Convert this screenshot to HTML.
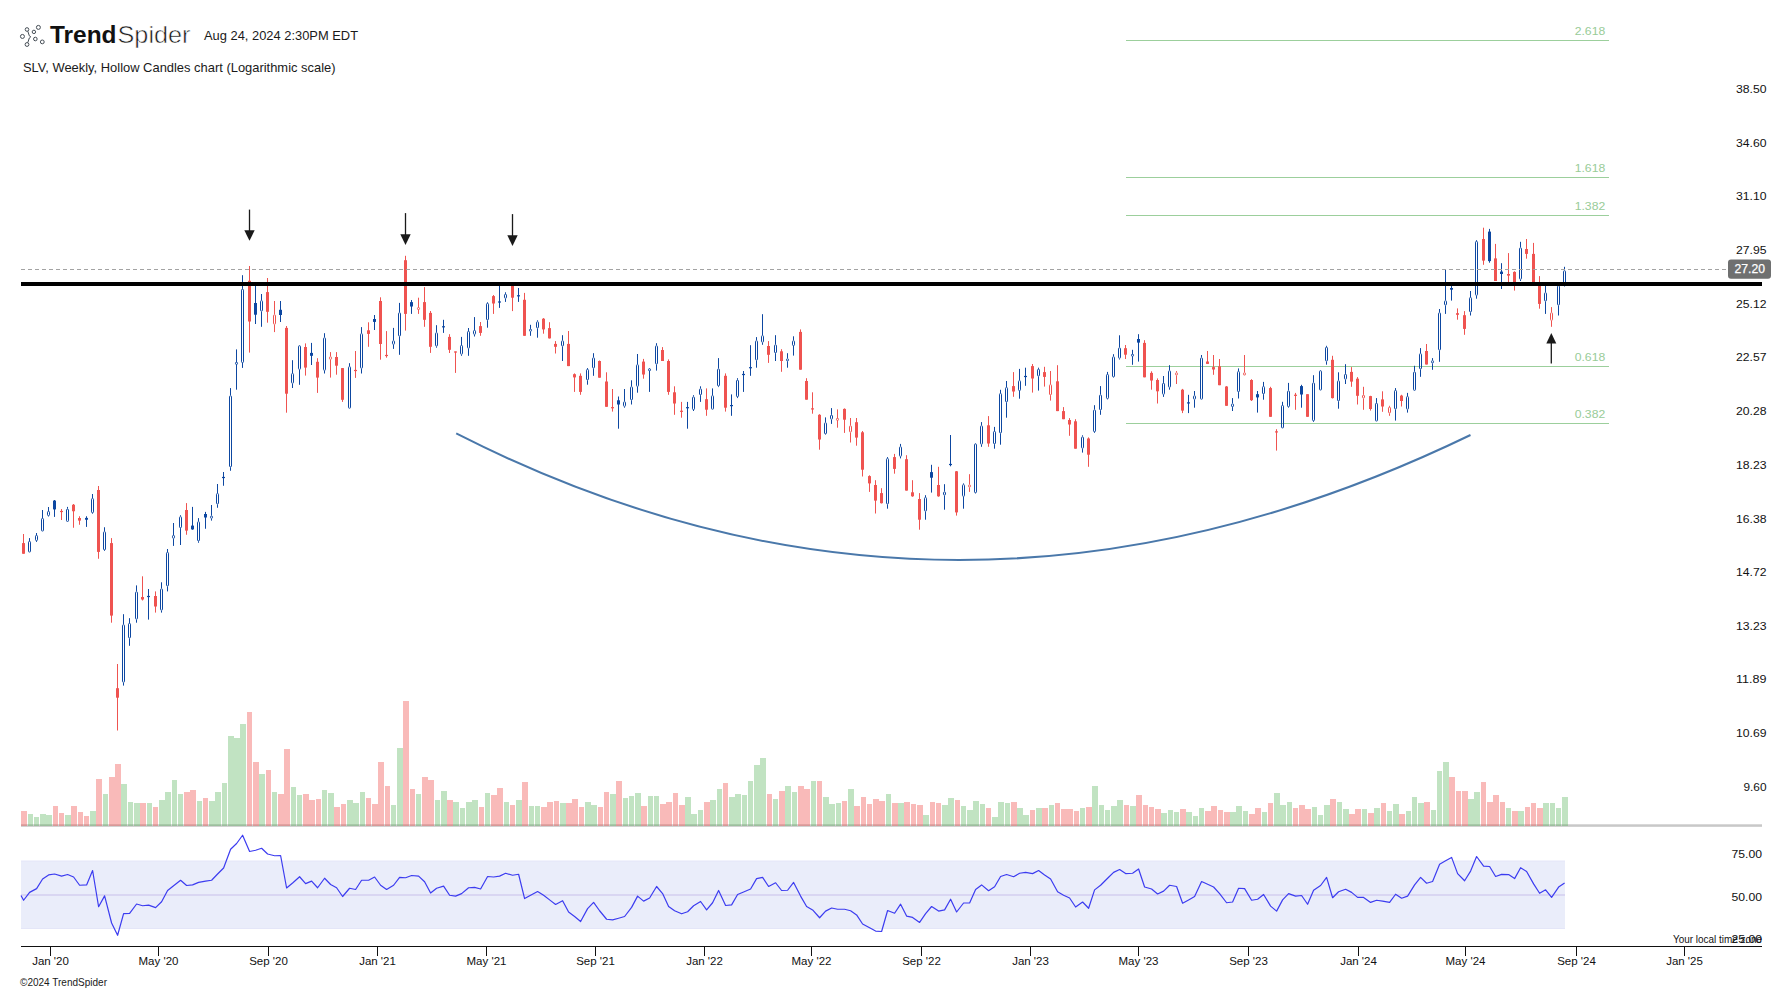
<!DOCTYPE html>
<html><head><meta charset="utf-8"><style>
html,body{margin:0;padding:0;background:#fff;width:1792px;height:992px;overflow:hidden;position:relative}
text{font-family:"Liberation Sans",sans-serif}
.ax{font-size:11.5px;fill:#111}
.tz{font-size:10.5px;fill:#111}
.tag{font-size:12.5px;fill:#fff;stroke:#fff;stroke-width:0.25px}
.fib{font-size:11px;fill:#98cc98}
.hd{font-size:13px;fill:#1a1a1a}
.logo{font-size:24px;fill:#111}
.thin{fill:#1a1a1a;stroke:#fff;stroke-width:0.55px}
.cp{font-size:11px;fill:#1a1a1a}
</style></head><body>
<svg width="1792" height="992" viewBox="0 0 1792 992" style="position:absolute;left:0;top:0"><rect x="21" y="861" width="1544" height="68" fill="#eaedfa"/><line x1="21" y1="895" x2="1565" y2="895" stroke="#d9d6f2" stroke-width="2"/><line x1="21" y1="861" x2="1565" y2="861" stroke="#e4e6f8" stroke-width="1"/><line x1="21" y1="928.5" x2="1565" y2="928.5" stroke="#e4e6f8" stroke-width="1"/><rect x="21" y="824.3" width="1741" height="2.5" fill="#c8c8c8"/><g shape-rendering="crispEdges"><rect x="21" y="811.1" width="6" height="14.4" fill="#ef5350" fill-opacity="0.4"/><rect x="28" y="814.2" width="5" height="11.3" fill="#4caf50" fill-opacity="0.35"/><rect x="34" y="817.0" width="5" height="8.5" fill="#4caf50" fill-opacity="0.35"/><rect x="40" y="814.2" width="6" height="11.3" fill="#4caf50" fill-opacity="0.35"/><rect x="46" y="815.0" width="6" height="10.5" fill="#4caf50" fill-opacity="0.35"/><rect x="53" y="806.0" width="5" height="19.5" fill="#ef5350" fill-opacity="0.4"/><rect x="59" y="813.1" width="5" height="12.4" fill="#ef5350" fill-opacity="0.4"/><rect x="65" y="815.0" width="6" height="10.5" fill="#4caf50" fill-opacity="0.35"/><rect x="71" y="806.0" width="6" height="19.5" fill="#ef5350" fill-opacity="0.4"/><rect x="78" y="812.0" width="5" height="13.5" fill="#ef5350" fill-opacity="0.4"/><rect x="84" y="816.0" width="5" height="9.5" fill="#ef5350" fill-opacity="0.4"/><rect x="90" y="811.1" width="6" height="14.4" fill="#4caf50" fill-opacity="0.35"/><rect x="96" y="779.2" width="6" height="46.3" fill="#ef5350" fill-opacity="0.4"/><rect x="103" y="794.1" width="5" height="31.4" fill="#4caf50" fill-opacity="0.35"/><rect x="109" y="777.2" width="6" height="48.3" fill="#ef5350" fill-opacity="0.4"/><rect x="115" y="764.1" width="6" height="61.4" fill="#ef5350" fill-opacity="0.4"/><rect x="121" y="784.1" width="6" height="41.4" fill="#4caf50" fill-opacity="0.35"/><rect x="128" y="802.2" width="5" height="23.3" fill="#4caf50" fill-opacity="0.35"/><rect x="134" y="803.2" width="6" height="22.3" fill="#4caf50" fill-opacity="0.35"/><rect x="140" y="803.2" width="6" height="22.3" fill="#ef5350" fill-opacity="0.4"/><rect x="147" y="803.2" width="5" height="22.3" fill="#4caf50" fill-opacity="0.35"/><rect x="153" y="807.1" width="5" height="18.4" fill="#ef5350" fill-opacity="0.4"/><rect x="159" y="800.1" width="6" height="25.4" fill="#4caf50" fill-opacity="0.35"/><rect x="165" y="792.0" width="6" height="33.5" fill="#4caf50" fill-opacity="0.35"/><rect x="172" y="780.0" width="5" height="45.5" fill="#4caf50" fill-opacity="0.35"/><rect x="178" y="794.1" width="5" height="31.4" fill="#4caf50" fill-opacity="0.35"/><rect x="184" y="792.0" width="6" height="33.5" fill="#ef5350" fill-opacity="0.4"/><rect x="190" y="790.2" width="6" height="35.3" fill="#ef5350" fill-opacity="0.4"/><rect x="197" y="801.2" width="5" height="24.3" fill="#4caf50" fill-opacity="0.35"/><rect x="203" y="798.0" width="5" height="27.5" fill="#ef5350" fill-opacity="0.4"/><rect x="209" y="801.2" width="6" height="24.3" fill="#4caf50" fill-opacity="0.35"/><rect x="215" y="792.0" width="6" height="33.5" fill="#4caf50" fill-opacity="0.35"/><rect x="222" y="783.1" width="5" height="42.4" fill="#4caf50" fill-opacity="0.35"/><rect x="228" y="735.9" width="6" height="89.6" fill="#4caf50" fill-opacity="0.35"/><rect x="234" y="738.2" width="6" height="87.3" fill="#4caf50" fill-opacity="0.35"/><rect x="240" y="724.0" width="6" height="101.5" fill="#4caf50" fill-opacity="0.35"/><rect x="247" y="712.0" width="5" height="113.5" fill="#ef5350" fill-opacity="0.4"/><rect x="253" y="762.1" width="6" height="63.4" fill="#ef5350" fill-opacity="0.4"/><rect x="259" y="774.1" width="6" height="51.4" fill="#4caf50" fill-opacity="0.35"/><rect x="266" y="770.1" width="5" height="55.4" fill="#ef5350" fill-opacity="0.4"/><rect x="272" y="792.1" width="5" height="33.4" fill="#4caf50" fill-opacity="0.35"/><rect x="278" y="794.1" width="6" height="31.4" fill="#ef5350" fill-opacity="0.4"/><rect x="284" y="749.0" width="6" height="76.5" fill="#ef5350" fill-opacity="0.4"/><rect x="291" y="787.2" width="5" height="38.3" fill="#4caf50" fill-opacity="0.35"/><rect x="297" y="795.1" width="5" height="30.4" fill="#4caf50" fill-opacity="0.35"/><rect x="303" y="794.1" width="6" height="31.4" fill="#ef5350" fill-opacity="0.4"/><rect x="309" y="800.1" width="6" height="25.4" fill="#ef5350" fill-opacity="0.4"/><rect x="316" y="798.9" width="5" height="26.6" fill="#ef5350" fill-opacity="0.4"/><rect x="322" y="790.1" width="5" height="35.4" fill="#4caf50" fill-opacity="0.35"/><rect x="328" y="793.1" width="6" height="32.4" fill="#4caf50" fill-opacity="0.35"/><rect x="334" y="807.1" width="6" height="18.4" fill="#ef5350" fill-opacity="0.4"/><rect x="341" y="804.0" width="5" height="21.5" fill="#ef5350" fill-opacity="0.4"/><rect x="347" y="800.1" width="6" height="25.4" fill="#4caf50" fill-opacity="0.35"/><rect x="353" y="803.1" width="6" height="22.4" fill="#4caf50" fill-opacity="0.35"/><rect x="360" y="792.1" width="5" height="33.4" fill="#4caf50" fill-opacity="0.35"/><rect x="366" y="798.1" width="5" height="27.4" fill="#ef5350" fill-opacity="0.4"/><rect x="372" y="804.0" width="6" height="21.5" fill="#ef5350" fill-opacity="0.4"/><rect x="378" y="762.1" width="6" height="63.4" fill="#ef5350" fill-opacity="0.4"/><rect x="385" y="786.1" width="5" height="39.4" fill="#ef5350" fill-opacity="0.4"/><rect x="391" y="805.1" width="5" height="20.4" fill="#4caf50" fill-opacity="0.35"/><rect x="397" y="748.2" width="6" height="77.3" fill="#4caf50" fill-opacity="0.35"/><rect x="403" y="701.1" width="6" height="124.4" fill="#ef5350" fill-opacity="0.4"/><rect x="410" y="789.1" width="5" height="36.4" fill="#ef5350" fill-opacity="0.4"/><rect x="416" y="794.1" width="5" height="31.4" fill="#4caf50" fill-opacity="0.35"/><rect x="422" y="776.9" width="6" height="48.6" fill="#ef5350" fill-opacity="0.4"/><rect x="428" y="780.1" width="6" height="45.4" fill="#ef5350" fill-opacity="0.4"/><rect x="435" y="800.1" width="5" height="25.4" fill="#4caf50" fill-opacity="0.35"/><rect x="441" y="791.1" width="6" height="34.4" fill="#4caf50" fill-opacity="0.35"/><rect x="447" y="800.1" width="6" height="25.4" fill="#ef5350" fill-opacity="0.4"/><rect x="453" y="802.1" width="6" height="23.4" fill="#4caf50" fill-opacity="0.35"/><rect x="460" y="808.2" width="5" height="17.3" fill="#4caf50" fill-opacity="0.35"/><rect x="466" y="802.1" width="6" height="23.4" fill="#4caf50" fill-opacity="0.35"/><rect x="472" y="800.1" width="6" height="25.4" fill="#4caf50" fill-opacity="0.35"/><rect x="479" y="807.1" width="5" height="18.4" fill="#ef5350" fill-opacity="0.4"/><rect x="485" y="793.1" width="5" height="32.4" fill="#4caf50" fill-opacity="0.35"/><rect x="491" y="795.1" width="6" height="30.4" fill="#ef5350" fill-opacity="0.4"/><rect x="497" y="788.1" width="6" height="37.4" fill="#ef5350" fill-opacity="0.4"/><rect x="504" y="802.1" width="5" height="23.4" fill="#4caf50" fill-opacity="0.35"/><rect x="510" y="805.1" width="5" height="20.4" fill="#ef5350" fill-opacity="0.4"/><rect x="516" y="800.1" width="6" height="25.4" fill="#4caf50" fill-opacity="0.35"/><rect x="522" y="782.1" width="6" height="43.4" fill="#ef5350" fill-opacity="0.4"/><rect x="529" y="806.2" width="5" height="19.3" fill="#4caf50" fill-opacity="0.35"/><rect x="535" y="806.2" width="5" height="19.3" fill="#4caf50" fill-opacity="0.35"/><rect x="541" y="807.1" width="6" height="18.4" fill="#ef5350" fill-opacity="0.4"/><rect x="547" y="802.1" width="6" height="23.4" fill="#ef5350" fill-opacity="0.4"/><rect x="554" y="801.1" width="5" height="24.4" fill="#ef5350" fill-opacity="0.4"/><rect x="560" y="803.1" width="6" height="22.4" fill="#4caf50" fill-opacity="0.35"/><rect x="566" y="803.1" width="6" height="22.4" fill="#ef5350" fill-opacity="0.4"/><rect x="572" y="799.1" width="6" height="26.4" fill="#ef5350" fill-opacity="0.4"/><rect x="579" y="807.1" width="5" height="18.4" fill="#ef5350" fill-opacity="0.4"/><rect x="585" y="802.1" width="6" height="23.4" fill="#4caf50" fill-opacity="0.35"/><rect x="591" y="805.1" width="6" height="20.4" fill="#4caf50" fill-opacity="0.35"/><rect x="598" y="807.1" width="5" height="18.4" fill="#ef5350" fill-opacity="0.4"/><rect x="604" y="792.1" width="5" height="33.4" fill="#ef5350" fill-opacity="0.4"/><rect x="610" y="794.1" width="6" height="31.4" fill="#4caf50" fill-opacity="0.35"/><rect x="616" y="781.2" width="6" height="44.3" fill="#ef5350" fill-opacity="0.4"/><rect x="623" y="798.1" width="5" height="27.4" fill="#4caf50" fill-opacity="0.35"/><rect x="629" y="796.1" width="5" height="29.4" fill="#4caf50" fill-opacity="0.35"/><rect x="635" y="793.1" width="6" height="32.4" fill="#4caf50" fill-opacity="0.35"/><rect x="641" y="806.2" width="6" height="19.3" fill="#ef5350" fill-opacity="0.4"/><rect x="648" y="796.1" width="5" height="29.4" fill="#4caf50" fill-opacity="0.35"/><rect x="654" y="796.1" width="5" height="29.4" fill="#4caf50" fill-opacity="0.35"/><rect x="660" y="804.0" width="6" height="21.5" fill="#ef5350" fill-opacity="0.4"/><rect x="666" y="802.1" width="6" height="23.4" fill="#ef5350" fill-opacity="0.4"/><rect x="673" y="793.1" width="5" height="32.4" fill="#ef5350" fill-opacity="0.4"/><rect x="679" y="805.1" width="6" height="20.4" fill="#ef5350" fill-opacity="0.4"/><rect x="685" y="797.1" width="6" height="28.4" fill="#4caf50" fill-opacity="0.35"/><rect x="691" y="814.2" width="6" height="11.3" fill="#4caf50" fill-opacity="0.35"/><rect x="698" y="810.2" width="5" height="15.3" fill="#4caf50" fill-opacity="0.35"/><rect x="704" y="802.1" width="6" height="23.4" fill="#ef5350" fill-opacity="0.4"/><rect x="710" y="800.1" width="6" height="25.4" fill="#4caf50" fill-opacity="0.35"/><rect x="717" y="789.1" width="5" height="36.4" fill="#4caf50" fill-opacity="0.35"/><rect x="723" y="783.2" width="5" height="42.3" fill="#ef5350" fill-opacity="0.4"/><rect x="729" y="797.1" width="6" height="28.4" fill="#4caf50" fill-opacity="0.35"/><rect x="735" y="794.1" width="6" height="31.4" fill="#4caf50" fill-opacity="0.35"/><rect x="742" y="795.1" width="5" height="30.4" fill="#4caf50" fill-opacity="0.35"/><rect x="748" y="781.2" width="5" height="44.3" fill="#4caf50" fill-opacity="0.35"/><rect x="754" y="765.2" width="6" height="60.3" fill="#4caf50" fill-opacity="0.35"/><rect x="760" y="758.1" width="6" height="67.4" fill="#4caf50" fill-opacity="0.35"/><rect x="767" y="794.1" width="5" height="31.4" fill="#ef5350" fill-opacity="0.4"/><rect x="773" y="799.1" width="5" height="26.4" fill="#4caf50" fill-opacity="0.35"/><rect x="779" y="791.1" width="6" height="34.4" fill="#ef5350" fill-opacity="0.4"/><rect x="785" y="786.2" width="6" height="39.3" fill="#4caf50" fill-opacity="0.35"/><rect x="792" y="792.1" width="5" height="33.4" fill="#4caf50" fill-opacity="0.35"/><rect x="798" y="786.2" width="6" height="39.3" fill="#ef5350" fill-opacity="0.4"/><rect x="804" y="789.1" width="6" height="36.4" fill="#ef5350" fill-opacity="0.4"/><rect x="811" y="781.2" width="5" height="44.3" fill="#4caf50" fill-opacity="0.35"/><rect x="817" y="781.2" width="5" height="44.3" fill="#ef5350" fill-opacity="0.4"/><rect x="823" y="797.1" width="6" height="28.4" fill="#4caf50" fill-opacity="0.35"/><rect x="829" y="804.0" width="6" height="21.5" fill="#4caf50" fill-opacity="0.35"/><rect x="836" y="803.1" width="5" height="22.4" fill="#4caf50" fill-opacity="0.35"/><rect x="842" y="801.1" width="5" height="24.4" fill="#ef5350" fill-opacity="0.4"/><rect x="848" y="789.1" width="6" height="36.4" fill="#4caf50" fill-opacity="0.35"/><rect x="854" y="806.2" width="6" height="19.3" fill="#ef5350" fill-opacity="0.4"/><rect x="861" y="797.1" width="5" height="28.4" fill="#ef5350" fill-opacity="0.4"/><rect x="867" y="804.0" width="5" height="21.5" fill="#ef5350" fill-opacity="0.4"/><rect x="873" y="799.1" width="6" height="26.4" fill="#ef5350" fill-opacity="0.4"/><rect x="879" y="801.1" width="6" height="24.4" fill="#ef5350" fill-opacity="0.4"/><rect x="886" y="794.1" width="5" height="31.4" fill="#4caf50" fill-opacity="0.35"/><rect x="892" y="803.1" width="6" height="22.4" fill="#ef5350" fill-opacity="0.4"/><rect x="898" y="803.1" width="6" height="22.4" fill="#4caf50" fill-opacity="0.35"/><rect x="904" y="802.1" width="6" height="23.4" fill="#ef5350" fill-opacity="0.4"/><rect x="911" y="804.0" width="5" height="21.5" fill="#ef5350" fill-opacity="0.4"/><rect x="917" y="805.1" width="6" height="20.4" fill="#ef5350" fill-opacity="0.4"/><rect x="923" y="815.1" width="6" height="10.4" fill="#4caf50" fill-opacity="0.35"/><rect x="930" y="802.1" width="5" height="23.4" fill="#ef5350" fill-opacity="0.4"/><rect x="936" y="803.1" width="5" height="22.4" fill="#ef5350" fill-opacity="0.4"/><rect x="942" y="805.1" width="6" height="20.4" fill="#4caf50" fill-opacity="0.35"/><rect x="948" y="798.1" width="6" height="27.4" fill="#4caf50" fill-opacity="0.35"/><rect x="955" y="800.1" width="5" height="25.4" fill="#ef5350" fill-opacity="0.4"/><rect x="961" y="806.2" width="5" height="19.3" fill="#4caf50" fill-opacity="0.35"/><rect x="967" y="810.2" width="6" height="15.3" fill="#4caf50" fill-opacity="0.35"/><rect x="973" y="801.1" width="6" height="24.4" fill="#4caf50" fill-opacity="0.35"/><rect x="980" y="804.0" width="5" height="21.5" fill="#4caf50" fill-opacity="0.35"/><rect x="986" y="808.2" width="5" height="17.3" fill="#ef5350" fill-opacity="0.4"/><rect x="992" y="817.1" width="6" height="8.4" fill="#4caf50" fill-opacity="0.35"/><rect x="998" y="802.1" width="6" height="23.4" fill="#4caf50" fill-opacity="0.35"/><rect x="1005" y="803.1" width="5" height="22.4" fill="#4caf50" fill-opacity="0.35"/><rect x="1011" y="802.1" width="6" height="23.4" fill="#ef5350" fill-opacity="0.4"/><rect x="1017" y="808.2" width="6" height="17.3" fill="#4caf50" fill-opacity="0.35"/><rect x="1023" y="815.1" width="6" height="10.4" fill="#4caf50" fill-opacity="0.35"/><rect x="1030" y="810.2" width="5" height="15.3" fill="#ef5350" fill-opacity="0.4"/><rect x="1036" y="808.2" width="6" height="17.3" fill="#4caf50" fill-opacity="0.35"/><rect x="1042" y="808.2" width="6" height="17.3" fill="#ef5350" fill-opacity="0.4"/><rect x="1049" y="805.1" width="5" height="20.4" fill="#4caf50" fill-opacity="0.35"/><rect x="1055" y="803.1" width="5" height="22.4" fill="#ef5350" fill-opacity="0.4"/><rect x="1061" y="809.1" width="6" height="16.4" fill="#ef5350" fill-opacity="0.4"/><rect x="1067" y="809.1" width="6" height="16.4" fill="#ef5350" fill-opacity="0.4"/><rect x="1074" y="811.1" width="5" height="14.4" fill="#ef5350" fill-opacity="0.4"/><rect x="1080" y="808.2" width="5" height="17.3" fill="#4caf50" fill-opacity="0.35"/><rect x="1086" y="807.1" width="6" height="18.4" fill="#ef5350" fill-opacity="0.4"/><rect x="1092" y="786.1" width="6" height="39.4" fill="#4caf50" fill-opacity="0.35"/><rect x="1099" y="805.1" width="5" height="20.4" fill="#4caf50" fill-opacity="0.35"/><rect x="1105" y="810.2" width="5" height="15.3" fill="#4caf50" fill-opacity="0.35"/><rect x="1111" y="806.2" width="6" height="19.3" fill="#4caf50" fill-opacity="0.35"/><rect x="1117" y="800.1" width="6" height="25.4" fill="#4caf50" fill-opacity="0.35"/><rect x="1124" y="805.1" width="5" height="20.4" fill="#ef5350" fill-opacity="0.4"/><rect x="1130" y="806.2" width="6" height="19.3" fill="#4caf50" fill-opacity="0.35"/><rect x="1136" y="795.1" width="6" height="30.4" fill="#ef5350" fill-opacity="0.4"/><rect x="1143" y="805.1" width="5" height="20.4" fill="#ef5350" fill-opacity="0.4"/><rect x="1149" y="807.1" width="5" height="18.4" fill="#ef5350" fill-opacity="0.4"/><rect x="1155" y="809.1" width="6" height="16.4" fill="#ef5350" fill-opacity="0.4"/><rect x="1161" y="813.1" width="6" height="12.4" fill="#4caf50" fill-opacity="0.35"/><rect x="1168" y="810.2" width="5" height="15.3" fill="#4caf50" fill-opacity="0.35"/><rect x="1174" y="812.2" width="5" height="13.3" fill="#4caf50" fill-opacity="0.35"/><rect x="1180" y="809.1" width="6" height="16.4" fill="#ef5350" fill-opacity="0.4"/><rect x="1186" y="812.2" width="6" height="13.3" fill="#4caf50" fill-opacity="0.35"/><rect x="1193" y="816.2" width="5" height="9.3" fill="#4caf50" fill-opacity="0.35"/><rect x="1199" y="808.2" width="5" height="17.3" fill="#4caf50" fill-opacity="0.35"/><rect x="1205" y="811.1" width="6" height="14.4" fill="#ef5350" fill-opacity="0.4"/><rect x="1211" y="806.2" width="6" height="19.3" fill="#ef5350" fill-opacity="0.4"/><rect x="1218" y="810.2" width="5" height="15.3" fill="#ef5350" fill-opacity="0.4"/><rect x="1224" y="812.2" width="6" height="13.3" fill="#ef5350" fill-opacity="0.4"/><rect x="1230" y="812.2" width="6" height="13.3" fill="#4caf50" fill-opacity="0.35"/><rect x="1236" y="806.2" width="6" height="19.3" fill="#4caf50" fill-opacity="0.35"/><rect x="1243" y="811.1" width="5" height="14.4" fill="#4caf50" fill-opacity="0.35"/><rect x="1249" y="814.2" width="6" height="11.3" fill="#ef5350" fill-opacity="0.4"/><rect x="1255" y="808.2" width="6" height="17.3" fill="#ef5350" fill-opacity="0.4"/><rect x="1262" y="812.2" width="5" height="13.3" fill="#4caf50" fill-opacity="0.35"/><rect x="1268" y="803.1" width="5" height="22.4" fill="#ef5350" fill-opacity="0.4"/><rect x="1274" y="793.1" width="6" height="32.4" fill="#4caf50" fill-opacity="0.35"/><rect x="1280" y="805.1" width="6" height="20.4" fill="#4caf50" fill-opacity="0.35"/><rect x="1287" y="802.1" width="5" height="23.4" fill="#4caf50" fill-opacity="0.35"/><rect x="1293" y="808.2" width="5" height="17.3" fill="#ef5350" fill-opacity="0.4"/><rect x="1299" y="805.1" width="6" height="20.4" fill="#ef5350" fill-opacity="0.4"/><rect x="1305" y="809.1" width="6" height="16.4" fill="#ef5350" fill-opacity="0.4"/><rect x="1312" y="807.1" width="5" height="18.4" fill="#4caf50" fill-opacity="0.35"/><rect x="1318" y="815.1" width="5" height="10.4" fill="#4caf50" fill-opacity="0.35"/><rect x="1324" y="805.1" width="6" height="20.4" fill="#4caf50" fill-opacity="0.35"/><rect x="1330" y="798.9" width="6" height="26.6" fill="#ef5350" fill-opacity="0.4"/><rect x="1337" y="802.1" width="5" height="23.4" fill="#4caf50" fill-opacity="0.35"/><rect x="1343" y="809.1" width="6" height="16.4" fill="#4caf50" fill-opacity="0.35"/><rect x="1349" y="814.2" width="6" height="11.3" fill="#ef5350" fill-opacity="0.4"/><rect x="1355" y="809.1" width="6" height="16.4" fill="#ef5350" fill-opacity="0.4"/><rect x="1362" y="809.1" width="5" height="16.4" fill="#4caf50" fill-opacity="0.35"/><rect x="1368" y="813.1" width="6" height="12.4" fill="#ef5350" fill-opacity="0.4"/><rect x="1374" y="808.2" width="6" height="17.3" fill="#4caf50" fill-opacity="0.35"/><rect x="1381" y="803.1" width="5" height="22.4" fill="#ef5350" fill-opacity="0.4"/><rect x="1387" y="811.1" width="5" height="14.4" fill="#4caf50" fill-opacity="0.35"/><rect x="1393" y="804.0" width="6" height="21.5" fill="#4caf50" fill-opacity="0.35"/><rect x="1399" y="814.2" width="6" height="11.3" fill="#ef5350" fill-opacity="0.4"/><rect x="1406" y="811.1" width="5" height="14.4" fill="#4caf50" fill-opacity="0.35"/><rect x="1412" y="797.1" width="5" height="28.4" fill="#4caf50" fill-opacity="0.35"/><rect x="1418" y="803.1" width="6" height="22.4" fill="#4caf50" fill-opacity="0.35"/><rect x="1424" y="802.1" width="6" height="23.4" fill="#ef5350" fill-opacity="0.4"/><rect x="1431" y="810.2" width="5" height="15.3" fill="#4caf50" fill-opacity="0.35"/><rect x="1437" y="771.2" width="5" height="54.3" fill="#4caf50" fill-opacity="0.35"/><rect x="1443" y="762.1" width="6" height="63.4" fill="#4caf50" fill-opacity="0.35"/><rect x="1449" y="777.2" width="6" height="48.3" fill="#ef5350" fill-opacity="0.4"/><rect x="1456" y="791.1" width="5" height="34.4" fill="#ef5350" fill-opacity="0.4"/><rect x="1462" y="791.1" width="6" height="34.4" fill="#ef5350" fill-opacity="0.4"/><rect x="1468" y="799.1" width="6" height="26.4" fill="#4caf50" fill-opacity="0.35"/><rect x="1474" y="792.1" width="6" height="33.4" fill="#4caf50" fill-opacity="0.35"/><rect x="1481" y="782.2" width="5" height="43.3" fill="#ef5350" fill-opacity="0.4"/><rect x="1487" y="802.1" width="6" height="23.4" fill="#ef5350" fill-opacity="0.4"/><rect x="1493" y="795.1" width="6" height="30.4" fill="#ef5350" fill-opacity="0.4"/><rect x="1500" y="802.1" width="5" height="23.4" fill="#ef5350" fill-opacity="0.4"/><rect x="1506" y="808.1" width="5" height="17.4" fill="#4caf50" fill-opacity="0.35"/><rect x="1512" y="811.1" width="6" height="14.4" fill="#ef5350" fill-opacity="0.4"/><rect x="1518" y="811.1" width="6" height="14.4" fill="#4caf50" fill-opacity="0.35"/><rect x="1525" y="807.2" width="5" height="18.3" fill="#ef5350" fill-opacity="0.4"/><rect x="1531" y="803.1" width="5" height="22.4" fill="#ef5350" fill-opacity="0.4"/><rect x="1537" y="808.1" width="6" height="17.4" fill="#ef5350" fill-opacity="0.4"/><rect x="1543" y="803.1" width="6" height="22.4" fill="#4caf50" fill-opacity="0.35"/><rect x="1550" y="803.1" width="5" height="22.4" fill="#4caf50" fill-opacity="0.35"/><rect x="1556" y="808.1" width="5" height="17.4" fill="#4caf50" fill-opacity="0.35"/><rect x="1562" y="797.0" width="6" height="28.5" fill="#4caf50" fill-opacity="0.35"/></g><line x1="1126" y1="40.5" x2="1609" y2="40.5" stroke="#9ccf9c" stroke-width="1.2"/><line x1="1126" y1="177.5" x2="1609" y2="177.5" stroke="#9ccf9c" stroke-width="1.2"/><line x1="1126" y1="215.5" x2="1609" y2="215.5" stroke="#9ccf9c" stroke-width="1.2"/><line x1="1126" y1="366.5" x2="1609" y2="366.5" stroke="#9ccf9c" stroke-width="1.2"/><line x1="1126" y1="423.5" x2="1609" y2="423.5" stroke="#9ccf9c" stroke-width="1.2"/><path d="M456.2 433.4 Q951.7 685.7 1470.5 435" fill="none" stroke="#4a78aa" stroke-width="2"/><g><line x1="23.5" y1="534.0" x2="23.5" y2="553.75" stroke="#ef5350" stroke-width="1"/><rect x="22.0" y="543.1" width="3" height="10.65" fill="#ef5350"/><line x1="29.5" y1="538.1" x2="29.5" y2="541.0" stroke="#0d47a1" stroke-width="1"/><rect x="28.5" y="541.50" width="2" height="10.50" rx="0.7" fill="none" stroke="#0d47a1" stroke-width="1"/><line x1="36.5" y1="533.0" x2="36.5" y2="535.0" stroke="#0d47a1" stroke-width="1"/><line x1="36.5" y1="541.0" x2="36.5" y2="541.9" stroke="#0d47a1" stroke-width="1"/><rect x="35.5" y="535.50" width="2" height="5.00" rx="0.7" fill="none" stroke="#0d47a1" stroke-width="1"/><line x1="42.5" y1="510.0" x2="42.5" y2="518.0" stroke="#0d47a1" stroke-width="1"/><rect x="41.5" y="518.50" width="2" height="12.50" rx="0.7" fill="none" stroke="#0d47a1" stroke-width="1"/><line x1="48.5" y1="507.0" x2="48.5" y2="511.0" stroke="#0d47a1" stroke-width="1"/><line x1="48.5" y1="516.0" x2="48.5" y2="516.5" stroke="#0d47a1" stroke-width="1"/><rect x="47.5" y="511.50" width="2" height="4.00" rx="0.7" fill="none" stroke="#0d47a1" stroke-width="1"/><line x1="54.5" y1="500.0" x2="54.5" y2="516.9" stroke="#0d47a1" stroke-width="1"/><rect x="53.0" y="500.6" width="3" height="8.80" fill="#0d47a1"/><line x1="61.5" y1="509.0" x2="61.5" y2="520.0" stroke="#ef5350" stroke-width="1"/><rect x="60.0" y="510.9" width="3" height="1.20" fill="#ef5350"/><line x1="67.5" y1="506.9" x2="67.5" y2="508.75" stroke="#0d47a1" stroke-width="1"/><rect x="66.5" y="509.25" width="2" height="12.15" rx="0.7" fill="none" stroke="#0d47a1" stroke-width="1"/><line x1="73.5" y1="504.0" x2="73.5" y2="527.75" stroke="#ef5350" stroke-width="1"/><rect x="72.0" y="504.75" width="3" height="6.50" fill="#ef5350"/><line x1="79.5" y1="516.25" x2="79.5" y2="524.75" stroke="#ef5350" stroke-width="1"/><rect x="78.0" y="518.0" width="3" height="2.60" fill="#ef5350"/><line x1="86.5" y1="516.25" x2="86.5" y2="526.9" stroke="#0d47a1" stroke-width="1"/><rect x="85.0" y="517.9" width="3" height="1.85" fill="#0d47a1"/><line x1="92.5" y1="494.0" x2="92.5" y2="498.1" stroke="#0d47a1" stroke-width="1"/><line x1="92.5" y1="513.1" x2="92.5" y2="513.75" stroke="#0d47a1" stroke-width="1"/><rect x="91.5" y="498.60" width="2" height="14.00" rx="0.7" fill="none" stroke="#0d47a1" stroke-width="1"/><line x1="98.5" y1="486.0" x2="98.5" y2="558.75" stroke="#ef5350" stroke-width="1"/><rect x="97.0" y="490.0" width="3" height="61.90" fill="#ef5350"/><line x1="104.5" y1="527.25" x2="104.5" y2="531.25" stroke="#0d47a1" stroke-width="1"/><line x1="104.5" y1="550.25" x2="104.5" y2="551.0" stroke="#0d47a1" stroke-width="1"/><rect x="103.5" y="531.75" width="2" height="18.00" rx="0.7" fill="none" stroke="#0d47a1" stroke-width="1"/><line x1="111.5" y1="538.1" x2="111.5" y2="622.7" stroke="#ef5350" stroke-width="1"/><rect x="110.0" y="543.1" width="3" height="72.50" fill="#ef5350"/><line x1="117.5" y1="664.0" x2="117.5" y2="730.5" stroke="#ef5350" stroke-width="1"/><rect x="116.0" y="688.2" width="3" height="9.50" fill="#ef5350"/><line x1="123.5" y1="614.2" x2="123.5" y2="624.3" stroke="#0d47a1" stroke-width="1"/><line x1="123.5" y1="682.7" x2="123.5" y2="685.6" stroke="#0d47a1" stroke-width="1"/><rect x="122.5" y="624.80" width="2" height="57.40" rx="0.7" fill="none" stroke="#0d47a1" stroke-width="1"/><line x1="129.5" y1="618.2" x2="129.5" y2="623.0" stroke="#0d47a1" stroke-width="1"/><line x1="129.5" y1="638.4" x2="129.5" y2="645.8" stroke="#0d47a1" stroke-width="1"/><rect x="128.5" y="623.50" width="2" height="14.40" rx="0.7" fill="none" stroke="#0d47a1" stroke-width="1"/><line x1="136.5" y1="585.4" x2="136.5" y2="591.4" stroke="#0d47a1" stroke-width="1"/><line x1="136.5" y1="619.6" x2="136.5" y2="622.7" stroke="#0d47a1" stroke-width="1"/><rect x="135.5" y="591.90" width="2" height="27.20" rx="0.7" fill="none" stroke="#0d47a1" stroke-width="1"/><line x1="142.5" y1="576.3" x2="142.5" y2="600.5" stroke="#ef5350" stroke-width="1"/><rect x="141.0" y="597.0" width="3" height="2.50" fill="#ef5350"/><line x1="148.5" y1="589.0" x2="148.5" y2="619.6" stroke="#0d47a1" stroke-width="1"/><rect x="147.0" y="595.9" width="3" height="1.20" fill="#0d47a1"/><line x1="155.5" y1="591.4" x2="155.5" y2="612.6" stroke="#ef5350" stroke-width="1"/><rect x="154.0" y="596.0" width="3" height="10.50" fill="#ef5350"/><line x1="161.5" y1="582.3" x2="161.5" y2="588.4" stroke="#0d47a1" stroke-width="1"/><line x1="161.5" y1="610.6" x2="161.5" y2="612.6" stroke="#0d47a1" stroke-width="1"/><rect x="160.5" y="588.90" width="2" height="21.20" rx="0.7" fill="none" stroke="#0d47a1" stroke-width="1"/><line x1="167.5" y1="549.0" x2="167.5" y2="552.0" stroke="#0d47a1" stroke-width="1"/><line x1="167.5" y1="586.4" x2="167.5" y2="591.4" stroke="#0d47a1" stroke-width="1"/><rect x="166.5" y="552.50" width="2" height="33.40" rx="0.7" fill="none" stroke="#0d47a1" stroke-width="1"/><line x1="173.5" y1="523.0" x2="173.5" y2="535.0" stroke="#0d47a1" stroke-width="1"/><line x1="173.5" y1="538.75" x2="173.5" y2="545.9" stroke="#0d47a1" stroke-width="1"/><rect x="172.5" y="535.50" width="2" height="2.75" rx="0.7" fill="none" stroke="#0d47a1" stroke-width="1"/><line x1="180.5" y1="515.25" x2="180.5" y2="516.25" stroke="#0d47a1" stroke-width="1"/><line x1="180.5" y1="528.1" x2="180.5" y2="545.0" stroke="#0d47a1" stroke-width="1"/><rect x="179.5" y="516.75" width="2" height="10.85" rx="0.7" fill="none" stroke="#0d47a1" stroke-width="1"/><line x1="186.5" y1="503.1" x2="186.5" y2="534.75" stroke="#ef5350" stroke-width="1"/><rect x="185.0" y="510.0" width="3" height="20.60" fill="#ef5350"/><line x1="192.5" y1="506.9" x2="192.5" y2="529.75" stroke="#0d47a1" stroke-width="1"/><rect x="191.0" y="525.6" width="3" height="3.80" fill="#0d47a1"/><line x1="198.5" y1="518.1" x2="198.5" y2="521.25" stroke="#0d47a1" stroke-width="1"/><line x1="198.5" y1="541.25" x2="198.5" y2="542.75" stroke="#0d47a1" stroke-width="1"/><rect x="197.5" y="521.75" width="2" height="19.00" rx="0.7" fill="none" stroke="#0d47a1" stroke-width="1"/><line x1="205.5" y1="511.9" x2="205.5" y2="528.75" stroke="#0d47a1" stroke-width="1"/><rect x="204.0" y="514.0" width="3" height="3.50" fill="#0d47a1"/><line x1="211.5" y1="505.0" x2="211.5" y2="515.6" stroke="#0d47a1" stroke-width="1"/><line x1="211.5" y1="518.75" x2="211.5" y2="520.6" stroke="#0d47a1" stroke-width="1"/><rect x="210.5" y="516.10" width="2" height="2.15" rx="0.7" fill="none" stroke="#0d47a1" stroke-width="1"/><line x1="217.5" y1="484.0" x2="217.5" y2="493.1" stroke="#0d47a1" stroke-width="1"/><line x1="217.5" y1="504.4" x2="217.5" y2="507.75" stroke="#0d47a1" stroke-width="1"/><rect x="216.5" y="493.60" width="2" height="10.30" rx="0.7" fill="none" stroke="#0d47a1" stroke-width="1"/><line x1="223.5" y1="472.0" x2="223.5" y2="485.75" stroke="#0d47a1" stroke-width="1"/><rect x="222.0" y="476.9" width="3" height="1.20" fill="#0d47a1"/><line x1="230.5" y1="388.1" x2="230.5" y2="395.4" stroke="#0d47a1" stroke-width="1"/><line x1="230.5" y1="467.25" x2="230.5" y2="470.75" stroke="#0d47a1" stroke-width="1"/><rect x="229.5" y="395.90" width="2" height="70.85" rx="0.7" fill="none" stroke="#0d47a1" stroke-width="1"/><line x1="236.5" y1="349.4" x2="236.5" y2="362.3" stroke="#0d47a1" stroke-width="1"/><line x1="236.5" y1="364.4" x2="236.5" y2="389.7" stroke="#0d47a1" stroke-width="1"/><rect x="235.5" y="362.35" width="2" height="2.00" rx="0.7" fill="none" stroke="#0d47a1" stroke-width="1"/><line x1="242.5" y1="275.2" x2="242.5" y2="288.9" stroke="#0d47a1" stroke-width="1"/><line x1="242.5" y1="363.0" x2="242.5" y2="367.9" stroke="#0d47a1" stroke-width="1"/><rect x="241.5" y="289.40" width="2" height="73.10" rx="0.7" fill="none" stroke="#0d47a1" stroke-width="1"/><line x1="249.5" y1="266.0" x2="249.5" y2="352.6" stroke="#ef5350" stroke-width="1"/><rect x="248.0" y="280.8" width="3" height="40.70" fill="#ef5350"/><line x1="255.5" y1="285.6" x2="255.5" y2="324.0" stroke="#0d47a1" stroke-width="1"/><rect x="254.0" y="303.0" width="3" height="11.70" fill="#0d47a1"/><line x1="261.5" y1="294.0" x2="261.5" y2="300.2" stroke="#0d47a1" stroke-width="1"/><line x1="261.5" y1="311.5" x2="261.5" y2="326.8" stroke="#0d47a1" stroke-width="1"/><rect x="260.5" y="300.70" width="2" height="10.30" rx="0.7" fill="none" stroke="#0d47a1" stroke-width="1"/><line x1="267.5" y1="278.0" x2="267.5" y2="322.7" stroke="#ef5350" stroke-width="1"/><rect x="266.0" y="292.1" width="3" height="19.70" fill="#ef5350"/><line x1="274.5" y1="301.0" x2="274.5" y2="314.4" stroke="#ef5350" stroke-width="1"/><line x1="274.5" y1="324.7" x2="274.5" y2="332.1" stroke="#ef5350" stroke-width="1"/><rect x="273.5" y="314.90" width="2" height="9.30" rx="0.7" fill="none" stroke="#ef5350" stroke-width="1"/><line x1="280.5" y1="301.0" x2="280.5" y2="322.0" stroke="#0d47a1" stroke-width="1"/><rect x="279.0" y="309.8" width="3" height="5.20" fill="#0d47a1"/><line x1="286.5" y1="326.0" x2="286.5" y2="412.7" stroke="#ef5350" stroke-width="1"/><rect x="285.0" y="327.9" width="3" height="65.80" fill="#ef5350"/><line x1="292.5" y1="360.2" x2="292.5" y2="373.1" stroke="#0d47a1" stroke-width="1"/><line x1="292.5" y1="383.7" x2="292.5" y2="388.0" stroke="#0d47a1" stroke-width="1"/><rect x="291.5" y="373.60" width="2" height="9.60" rx="0.7" fill="none" stroke="#0d47a1" stroke-width="1"/><line x1="299.5" y1="345.0" x2="299.5" y2="345.3" stroke="#0d47a1" stroke-width="1"/><line x1="299.5" y1="369.8" x2="299.5" y2="384.8" stroke="#0d47a1" stroke-width="1"/><rect x="298.5" y="345.80" width="2" height="23.50" rx="0.7" fill="none" stroke="#0d47a1" stroke-width="1"/><line x1="305.5" y1="343.4" x2="305.5" y2="375.6" stroke="#ef5350" stroke-width="1"/><rect x="304.0" y="347.0" width="3" height="20.60" fill="#ef5350"/><line x1="311.5" y1="342.9" x2="311.5" y2="365.0" stroke="#0d47a1" stroke-width="1"/><rect x="310.0" y="352.9" width="3" height="2.90" fill="#0d47a1"/><line x1="317.5" y1="358.2" x2="317.5" y2="392.9" stroke="#ef5350" stroke-width="1"/><rect x="316.0" y="361.8" width="3" height="15.80" fill="#ef5350"/><line x1="324.5" y1="333.2" x2="324.5" y2="337.3" stroke="#0d47a1" stroke-width="1"/><line x1="324.5" y1="370.8" x2="324.5" y2="373.5" stroke="#0d47a1" stroke-width="1"/><rect x="323.5" y="337.80" width="2" height="32.50" rx="0.7" fill="none" stroke="#0d47a1" stroke-width="1"/><line x1="330.5" y1="352.1" x2="330.5" y2="356.3" stroke="#ef5350" stroke-width="1"/><line x1="330.5" y1="359.8" x2="330.5" y2="377.6" stroke="#ef5350" stroke-width="1"/><rect x="329.5" y="356.80" width="2" height="2.50" rx="0.7" fill="none" stroke="#ef5350" stroke-width="1"/><line x1="336.5" y1="352.1" x2="336.5" y2="374.7" stroke="#ef5350" stroke-width="1"/><rect x="335.0" y="357.0" width="3" height="8.70" fill="#ef5350"/><line x1="342.5" y1="368.0" x2="342.5" y2="401.9" stroke="#ef5350" stroke-width="1"/><rect x="341.0" y="368.1" width="3" height="31.70" fill="#ef5350"/><line x1="349.5" y1="363.2" x2="349.5" y2="366.2" stroke="#0d47a1" stroke-width="1"/><rect x="348.5" y="366.70" width="2" height="41.50" rx="0.7" fill="none" stroke="#0d47a1" stroke-width="1"/><line x1="355.5" y1="351.0" x2="355.5" y2="377.9" stroke="#ef5350" stroke-width="1"/><rect x="354.0" y="369.9" width="3" height="1.20" fill="#ef5350"/><line x1="361.5" y1="327.1" x2="361.5" y2="333.2" stroke="#0d47a1" stroke-width="1"/><line x1="361.5" y1="368.7" x2="361.5" y2="373.5" stroke="#0d47a1" stroke-width="1"/><rect x="360.5" y="333.70" width="2" height="34.50" rx="0.7" fill="none" stroke="#0d47a1" stroke-width="1"/><line x1="368.5" y1="322.3" x2="368.5" y2="346.8" stroke="#ef5350" stroke-width="1"/><rect x="367.0" y="330.3" width="3" height="3.60" fill="#ef5350"/><line x1="374.5" y1="315.0" x2="374.5" y2="330.0" stroke="#0d47a1" stroke-width="1"/><rect x="373.0" y="319.0" width="3" height="2.90" fill="#0d47a1"/><line x1="380.5" y1="297.3" x2="380.5" y2="359.7" stroke="#ef5350" stroke-width="1"/><rect x="379.0" y="301.0" width="3" height="43.00" fill="#ef5350"/><line x1="386.5" y1="331.1" x2="386.5" y2="357.7" stroke="#ef5350" stroke-width="1"/><rect x="385.0" y="354.9" width="3" height="1.20" fill="#ef5350"/><line x1="393.5" y1="327.9" x2="393.5" y2="340.3" stroke="#0d47a1" stroke-width="1"/><line x1="393.5" y1="344.8" x2="393.5" y2="348.9" stroke="#0d47a1" stroke-width="1"/><rect x="392.5" y="340.80" width="2" height="3.50" rx="0.7" fill="none" stroke="#0d47a1" stroke-width="1"/><line x1="399.5" y1="302.9" x2="399.5" y2="312.3" stroke="#0d47a1" stroke-width="1"/><line x1="399.5" y1="336.5" x2="399.5" y2="354.8" stroke="#0d47a1" stroke-width="1"/><rect x="398.5" y="312.80" width="2" height="23.20" rx="0.7" fill="none" stroke="#0d47a1" stroke-width="1"/><line x1="405.5" y1="255.8" x2="405.5" y2="330.6" stroke="#ef5350" stroke-width="1"/><rect x="404.0" y="260.2" width="3" height="53.70" fill="#ef5350"/><line x1="411.5" y1="300.0" x2="411.5" y2="313.9" stroke="#0d47a1" stroke-width="1"/><rect x="410.0" y="302.1" width="3" height="4.40" fill="#0d47a1"/><line x1="418.5" y1="297.7" x2="418.5" y2="307.4" stroke="#ef5350" stroke-width="1"/><line x1="418.5" y1="309.7" x2="418.5" y2="313.9" stroke="#ef5350" stroke-width="1"/><rect x="417.5" y="307.55" width="2" height="2.00" rx="0.7" fill="none" stroke="#ef5350" stroke-width="1"/><line x1="424.5" y1="287.1" x2="424.5" y2="326.8" stroke="#ef5350" stroke-width="1"/><rect x="423.0" y="302.1" width="3" height="17.70" fill="#ef5350"/><line x1="430.5" y1="311.0" x2="430.5" y2="352.9" stroke="#ef5350" stroke-width="1"/><rect x="429.0" y="312.9" width="3" height="33.90" fill="#ef5350"/><line x1="436.5" y1="325.2" x2="436.5" y2="332.3" stroke="#0d47a1" stroke-width="1"/><line x1="436.5" y1="346.5" x2="436.5" y2="347.7" stroke="#0d47a1" stroke-width="1"/><rect x="435.5" y="332.80" width="2" height="13.20" rx="0.7" fill="none" stroke="#0d47a1" stroke-width="1"/><line x1="443.5" y1="319.8" x2="443.5" y2="332.9" stroke="#0d47a1" stroke-width="1"/><rect x="442.0" y="326.2" width="3" height="1.20" fill="#0d47a1"/><line x1="449.5" y1="334.2" x2="449.5" y2="353.0" stroke="#ef5350" stroke-width="1"/><rect x="448.0" y="336.9" width="3" height="12.90" fill="#ef5350"/><line x1="455.5" y1="351.5" x2="455.5" y2="372.9" stroke="#ef5350" stroke-width="1"/><rect x="454.0" y="351.4" width="3" height="1.20" fill="#ef5350"/><line x1="461.5" y1="336.9" x2="461.5" y2="345.0" stroke="#0d47a1" stroke-width="1"/><line x1="461.5" y1="354.7" x2="461.5" y2="355.8" stroke="#0d47a1" stroke-width="1"/><rect x="460.5" y="345.50" width="2" height="8.70" rx="0.7" fill="none" stroke="#0d47a1" stroke-width="1"/><line x1="468.5" y1="328.0" x2="468.5" y2="331.0" stroke="#0d47a1" stroke-width="1"/><line x1="468.5" y1="348.7" x2="468.5" y2="355.8" stroke="#0d47a1" stroke-width="1"/><rect x="467.5" y="331.50" width="2" height="16.70" rx="0.7" fill="none" stroke="#0d47a1" stroke-width="1"/><line x1="474.5" y1="317.1" x2="474.5" y2="330.0" stroke="#0d47a1" stroke-width="1"/><line x1="474.5" y1="334.8" x2="474.5" y2="336.5" stroke="#0d47a1" stroke-width="1"/><rect x="473.5" y="330.50" width="2" height="3.80" rx="0.7" fill="none" stroke="#0d47a1" stroke-width="1"/><line x1="480.5" y1="322.0" x2="480.5" y2="335.8" stroke="#ef5350" stroke-width="1"/><rect x="479.0" y="326.1" width="3" height="6.80" fill="#ef5350"/><line x1="487.5" y1="302.3" x2="487.5" y2="303.0" stroke="#0d47a1" stroke-width="1"/><line x1="487.5" y1="320.3" x2="487.5" y2="327.7" stroke="#0d47a1" stroke-width="1"/><rect x="486.5" y="303.50" width="2" height="16.30" rx="0.7" fill="none" stroke="#0d47a1" stroke-width="1"/><line x1="493.5" y1="295.0" x2="493.5" y2="313.9" stroke="#ef5350" stroke-width="1"/><rect x="492.0" y="296.1" width="3" height="7.40" fill="#ef5350"/><line x1="499.5" y1="284.0" x2="499.5" y2="307.9" stroke="#0d47a1" stroke-width="1"/><rect x="498.0" y="301.4" width="3" height="1.20" fill="#0d47a1"/><line x1="505.5" y1="292.3" x2="505.5" y2="293.9" stroke="#0d47a1" stroke-width="1"/><line x1="505.5" y1="298.7" x2="505.5" y2="301.9" stroke="#0d47a1" stroke-width="1"/><rect x="504.5" y="294.40" width="2" height="3.80" rx="0.7" fill="none" stroke="#0d47a1" stroke-width="1"/><line x1="512.5" y1="283.0" x2="512.5" y2="311.1" stroke="#ef5350" stroke-width="1"/><rect x="511.0" y="285.3" width="3" height="12.40" fill="#ef5350"/><line x1="518.5" y1="288.0" x2="518.5" y2="301.9" stroke="#0d47a1" stroke-width="1"/><rect x="517.0" y="295.2" width="3" height="1.20" fill="#0d47a1"/><line x1="524.5" y1="292.9" x2="524.5" y2="335.8" stroke="#ef5350" stroke-width="1"/><rect x="523.0" y="299.8" width="3" height="36.00" fill="#ef5350"/><line x1="530.5" y1="324.8" x2="530.5" y2="328.9" stroke="#0d47a1" stroke-width="1"/><line x1="530.5" y1="331.6" x2="530.5" y2="335.8" stroke="#0d47a1" stroke-width="1"/><rect x="529.5" y="329.25" width="2" height="2.00" rx="0.7" fill="none" stroke="#0d47a1" stroke-width="1"/><line x1="537.5" y1="320.3" x2="537.5" y2="321.3" stroke="#0d47a1" stroke-width="1"/><line x1="537.5" y1="328.4" x2="537.5" y2="337.7" stroke="#0d47a1" stroke-width="1"/><rect x="536.5" y="321.80" width="2" height="6.10" rx="0.7" fill="none" stroke="#0d47a1" stroke-width="1"/><line x1="543.5" y1="318.1" x2="543.5" y2="333.7" stroke="#ef5350" stroke-width="1"/><rect x="542.0" y="318.7" width="3" height="10.70" fill="#ef5350"/><line x1="549.5" y1="322.2" x2="549.5" y2="338.5" stroke="#ef5350" stroke-width="1"/><rect x="548.0" y="328.1" width="3" height="10.30" fill="#ef5350"/><line x1="555.5" y1="341.1" x2="555.5" y2="353.5" stroke="#ef5350" stroke-width="1"/><rect x="554.0" y="343.9" width="3" height="2.90" fill="#ef5350"/><line x1="562.5" y1="335.2" x2="562.5" y2="340.3" stroke="#0d47a1" stroke-width="1"/><line x1="562.5" y1="346.5" x2="562.5" y2="361.0" stroke="#0d47a1" stroke-width="1"/><rect x="561.5" y="340.80" width="2" height="5.20" rx="0.7" fill="none" stroke="#0d47a1" stroke-width="1"/><line x1="568.5" y1="331.0" x2="568.5" y2="366.1" stroke="#ef5350" stroke-width="1"/><rect x="567.0" y="343.9" width="3" height="22.20" fill="#ef5350"/><line x1="574.5" y1="373.4" x2="574.5" y2="391.9" stroke="#ef5350" stroke-width="1"/><rect x="573.0" y="374.2" width="3" height="3.20" fill="#ef5350"/><line x1="580.5" y1="373.4" x2="580.5" y2="394.8" stroke="#ef5350" stroke-width="1"/><rect x="579.0" y="375.8" width="3" height="16.10" fill="#ef5350"/><line x1="587.5" y1="368.1" x2="587.5" y2="369.0" stroke="#0d47a1" stroke-width="1"/><line x1="587.5" y1="380.3" x2="587.5" y2="384.7" stroke="#0d47a1" stroke-width="1"/><rect x="586.5" y="369.50" width="2" height="10.30" rx="0.7" fill="none" stroke="#0d47a1" stroke-width="1"/><line x1="593.5" y1="353.2" x2="593.5" y2="357.3" stroke="#0d47a1" stroke-width="1"/><line x1="593.5" y1="368.5" x2="593.5" y2="375.8" stroke="#0d47a1" stroke-width="1"/><rect x="592.5" y="357.80" width="2" height="10.20" rx="0.7" fill="none" stroke="#0d47a1" stroke-width="1"/><line x1="599.5" y1="360.5" x2="599.5" y2="377.7" stroke="#ef5350" stroke-width="1"/><rect x="598.0" y="361.0" width="3" height="16.70" fill="#ef5350"/><line x1="606.5" y1="372.3" x2="606.5" y2="406.8" stroke="#ef5350" stroke-width="1"/><rect x="605.0" y="381.5" width="3" height="25.30" fill="#ef5350"/><line x1="612.5" y1="389.0" x2="612.5" y2="411.6" stroke="#ef5350" stroke-width="1"/><rect x="611.0" y="407.09999999999997" width="3" height="1.20" fill="#ef5350"/><line x1="618.5" y1="396.5" x2="618.5" y2="428.7" stroke="#0d47a1" stroke-width="1"/><rect x="617.0" y="400.3" width="3" height="4.20" fill="#0d47a1"/><line x1="624.5" y1="389.0" x2="624.5" y2="401.3" stroke="#0d47a1" stroke-width="1"/><line x1="624.5" y1="406.8" x2="624.5" y2="407.7" stroke="#0d47a1" stroke-width="1"/><rect x="623.5" y="401.80" width="2" height="4.50" rx="0.7" fill="none" stroke="#0d47a1" stroke-width="1"/><line x1="631.5" y1="380.3" x2="631.5" y2="386.3" stroke="#0d47a1" stroke-width="1"/><line x1="631.5" y1="400.3" x2="631.5" y2="404.5" stroke="#0d47a1" stroke-width="1"/><rect x="630.5" y="386.80" width="2" height="13.00" rx="0.7" fill="none" stroke="#0d47a1" stroke-width="1"/><line x1="637.5" y1="354.0" x2="637.5" y2="364.2" stroke="#0d47a1" stroke-width="1"/><line x1="637.5" y1="386.8" x2="637.5" y2="392.7" stroke="#0d47a1" stroke-width="1"/><rect x="636.5" y="364.70" width="2" height="21.60" rx="0.7" fill="none" stroke="#0d47a1" stroke-width="1"/><line x1="643.5" y1="358.9" x2="643.5" y2="378.7" stroke="#ef5350" stroke-width="1"/><rect x="642.0" y="361.6" width="3" height="12.90" fill="#ef5350"/><line x1="649.5" y1="368.1" x2="649.5" y2="368.5" stroke="#0d47a1" stroke-width="1"/><line x1="649.5" y1="371.0" x2="649.5" y2="391.9" stroke="#0d47a1" stroke-width="1"/><rect x="648.5" y="368.75" width="2" height="2.00" rx="0.7" fill="none" stroke="#0d47a1" stroke-width="1"/><line x1="656.5" y1="343.2" x2="656.5" y2="345.3" stroke="#0d47a1" stroke-width="1"/><line x1="656.5" y1="364.5" x2="656.5" y2="370.6" stroke="#0d47a1" stroke-width="1"/><rect x="655.5" y="345.80" width="2" height="18.20" rx="0.7" fill="none" stroke="#0d47a1" stroke-width="1"/><line x1="662.5" y1="347.1" x2="662.5" y2="361.0" stroke="#ef5350" stroke-width="1"/><rect x="661.0" y="350.0" width="3" height="11.00" fill="#ef5350"/><line x1="668.5" y1="359.4" x2="668.5" y2="394.8" stroke="#ef5350" stroke-width="1"/><rect x="667.0" y="361.0" width="3" height="30.90" fill="#ef5350"/><line x1="674.5" y1="386.3" x2="674.5" y2="414.8" stroke="#ef5350" stroke-width="1"/><rect x="673.0" y="392.3" width="3" height="11.20" fill="#ef5350"/><line x1="681.5" y1="401.9" x2="681.5" y2="417.7" stroke="#ef5350" stroke-width="1"/><rect x="680.0" y="410.7" width="3" height="1.20" fill="#ef5350"/><line x1="687.5" y1="401.9" x2="687.5" y2="428.7" stroke="#0d47a1" stroke-width="1"/><rect x="686.0" y="407.09999999999997" width="3" height="1.20" fill="#0d47a1"/><line x1="693.5" y1="395.2" x2="693.5" y2="396.5" stroke="#0d47a1" stroke-width="1"/><line x1="693.5" y1="410.0" x2="693.5" y2="411.0" stroke="#0d47a1" stroke-width="1"/><rect x="692.5" y="397.00" width="2" height="12.50" rx="0.7" fill="none" stroke="#0d47a1" stroke-width="1"/><line x1="700.5" y1="386.3" x2="700.5" y2="388.4" stroke="#0d47a1" stroke-width="1"/><line x1="700.5" y1="395.2" x2="700.5" y2="401.9" stroke="#0d47a1" stroke-width="1"/><rect x="699.5" y="388.90" width="2" height="5.80" rx="0.7" fill="none" stroke="#0d47a1" stroke-width="1"/><line x1="706.5" y1="388.4" x2="706.5" y2="415.8" stroke="#ef5350" stroke-width="1"/><rect x="705.0" y="399.2" width="3" height="10.50" fill="#ef5350"/><line x1="712.5" y1="388.4" x2="712.5" y2="395.2" stroke="#0d47a1" stroke-width="1"/><rect x="711.5" y="395.70" width="2" height="13.50" rx="0.7" fill="none" stroke="#0d47a1" stroke-width="1"/><line x1="718.5" y1="358.1" x2="718.5" y2="368.5" stroke="#0d47a1" stroke-width="1"/><line x1="718.5" y1="386.3" x2="718.5" y2="387.1" stroke="#0d47a1" stroke-width="1"/><rect x="717.5" y="369.00" width="2" height="16.80" rx="0.7" fill="none" stroke="#0d47a1" stroke-width="1"/><line x1="725.5" y1="373.4" x2="725.5" y2="411.6" stroke="#ef5350" stroke-width="1"/><rect x="724.0" y="375.8" width="3" height="31.90" fill="#ef5350"/><line x1="731.5" y1="394.4" x2="731.5" y2="415.8" stroke="#0d47a1" stroke-width="1"/><rect x="730.0" y="405.0" width="3" height="1.20" fill="#0d47a1"/><line x1="737.5" y1="378.2" x2="737.5" y2="379.8" stroke="#0d47a1" stroke-width="1"/><line x1="737.5" y1="397.1" x2="737.5" y2="398.1" stroke="#0d47a1" stroke-width="1"/><rect x="736.5" y="380.30" width="2" height="16.30" rx="0.7" fill="none" stroke="#0d47a1" stroke-width="1"/><line x1="743.5" y1="371.0" x2="743.5" y2="391.9" stroke="#0d47a1" stroke-width="1"/><rect x="742.0" y="373.9" width="3" height="1.20" fill="#0d47a1"/><line x1="750.5" y1="345.2" x2="750.5" y2="375.8" stroke="#0d47a1" stroke-width="1"/><rect x="749.0" y="367.09999999999997" width="3" height="1.20" fill="#0d47a1"/><line x1="756.5" y1="337.1" x2="756.5" y2="340.3" stroke="#0d47a1" stroke-width="1"/><line x1="756.5" y1="360.5" x2="756.5" y2="367.7" stroke="#0d47a1" stroke-width="1"/><rect x="755.5" y="340.80" width="2" height="19.20" rx="0.7" fill="none" stroke="#0d47a1" stroke-width="1"/><line x1="762.5" y1="314.2" x2="762.5" y2="335.2" stroke="#0d47a1" stroke-width="1"/><line x1="762.5" y1="342.7" x2="762.5" y2="344.8" stroke="#0d47a1" stroke-width="1"/><rect x="761.5" y="335.70" width="2" height="6.50" rx="0.7" fill="none" stroke="#0d47a1" stroke-width="1"/><line x1="768.5" y1="341.1" x2="768.5" y2="362.9" stroke="#ef5350" stroke-width="1"/><rect x="767.0" y="346.0" width="3" height="8.80" fill="#ef5350"/><line x1="775.5" y1="335.2" x2="775.5" y2="344.4" stroke="#0d47a1" stroke-width="1"/><line x1="775.5" y1="353.2" x2="775.5" y2="361.0" stroke="#0d47a1" stroke-width="1"/><rect x="774.5" y="344.90" width="2" height="7.80" rx="0.7" fill="none" stroke="#0d47a1" stroke-width="1"/><line x1="781.5" y1="349.2" x2="781.5" y2="371.8" stroke="#ef5350" stroke-width="1"/><rect x="780.0" y="351.3" width="3" height="9.70" fill="#ef5350"/><line x1="787.5" y1="353.2" x2="787.5" y2="358.4" stroke="#0d47a1" stroke-width="1"/><line x1="787.5" y1="361.3" x2="787.5" y2="367.7" stroke="#0d47a1" stroke-width="1"/><rect x="786.5" y="358.85" width="2" height="2.00" rx="0.7" fill="none" stroke="#0d47a1" stroke-width="1"/><line x1="793.5" y1="336.3" x2="793.5" y2="340.3" stroke="#0d47a1" stroke-width="1"/><line x1="793.5" y1="346.0" x2="793.5" y2="355.6" stroke="#0d47a1" stroke-width="1"/><rect x="792.5" y="340.80" width="2" height="4.70" rx="0.7" fill="none" stroke="#0d47a1" stroke-width="1"/><line x1="800.5" y1="329.4" x2="800.5" y2="369.7" stroke="#ef5350" stroke-width="1"/><rect x="799.0" y="331.9" width="3" height="37.80" fill="#ef5350"/><line x1="806.5" y1="378.2" x2="806.5" y2="399.7" stroke="#ef5350" stroke-width="1"/><rect x="805.0" y="381.0" width="3" height="18.70" fill="#ef5350"/><line x1="812.5" y1="392.3" x2="812.5" y2="413.7" stroke="#ef5350" stroke-width="1"/><rect x="811.0" y="408.29999999999995" width="3" height="1.20" fill="#ef5350"/><line x1="819.5" y1="414.2" x2="819.5" y2="449.7" stroke="#ef5350" stroke-width="1"/><rect x="818.0" y="414.8" width="3" height="24.70" fill="#ef5350"/><line x1="825.5" y1="417.4" x2="825.5" y2="422.3" stroke="#0d47a1" stroke-width="1"/><line x1="825.5" y1="434.2" x2="825.5" y2="434.7" stroke="#0d47a1" stroke-width="1"/><rect x="824.5" y="422.80" width="2" height="10.90" rx="0.7" fill="none" stroke="#0d47a1" stroke-width="1"/><line x1="831.5" y1="408.1" x2="831.5" y2="414.8" stroke="#0d47a1" stroke-width="1"/><line x1="831.5" y1="419.7" x2="831.5" y2="423.9" stroke="#0d47a1" stroke-width="1"/><rect x="830.5" y="415.30" width="2" height="3.90" rx="0.7" fill="none" stroke="#0d47a1" stroke-width="1"/><line x1="837.5" y1="409.4" x2="837.5" y2="418.5" stroke="#ef5350" stroke-width="1"/><line x1="837.5" y1="420.2" x2="837.5" y2="427.7" stroke="#ef5350" stroke-width="1"/><rect x="836.5" y="418.35" width="2" height="2.00" rx="0.7" fill="none" stroke="#ef5350" stroke-width="1"/><line x1="844.5" y1="408.4" x2="844.5" y2="432.9" stroke="#ef5350" stroke-width="1"/><rect x="843.0" y="408.9" width="3" height="10.80" fill="#ef5350"/><line x1="850.5" y1="418.0" x2="850.5" y2="425.4" stroke="#ef5350" stroke-width="1"/><line x1="850.5" y1="432.5" x2="850.5" y2="442.5" stroke="#ef5350" stroke-width="1"/><rect x="849.5" y="425.90" width="2" height="6.10" rx="0.7" fill="none" stroke="#ef5350" stroke-width="1"/><line x1="856.5" y1="418.0" x2="856.5" y2="445.7" stroke="#ef5350" stroke-width="1"/><rect x="855.0" y="422.2" width="3" height="15.40" fill="#ef5350"/><line x1="862.5" y1="431.0" x2="862.5" y2="476.5" stroke="#ef5350" stroke-width="1"/><rect x="861.0" y="432.3" width="3" height="37.40" fill="#ef5350"/><line x1="869.5" y1="475.3" x2="869.5" y2="491.9" stroke="#ef5350" stroke-width="1"/><rect x="868.0" y="476.1" width="3" height="7.30" fill="#ef5350"/><line x1="875.5" y1="480.2" x2="875.5" y2="513.5" stroke="#ef5350" stroke-width="1"/><rect x="874.0" y="485.0" width="3" height="15.60" fill="#ef5350"/><line x1="881.5" y1="488.2" x2="881.5" y2="503.5" stroke="#ef5350" stroke-width="1"/><rect x="880.0" y="493.1" width="3" height="10.10" fill="#ef5350"/><line x1="887.5" y1="457.1" x2="887.5" y2="458.1" stroke="#0d47a1" stroke-width="1"/><line x1="887.5" y1="504.4" x2="887.5" y2="508.7" stroke="#0d47a1" stroke-width="1"/><rect x="886.5" y="458.60" width="2" height="45.30" rx="0.7" fill="none" stroke="#0d47a1" stroke-width="1"/><line x1="894.5" y1="453.9" x2="894.5" y2="473.7" stroke="#ef5350" stroke-width="1"/><rect x="893.0" y="457.1" width="3" height="11.80" fill="#ef5350"/><line x1="900.5" y1="443.9" x2="900.5" y2="446.3" stroke="#0d47a1" stroke-width="1"/><line x1="900.5" y1="456.8" x2="900.5" y2="458.4" stroke="#0d47a1" stroke-width="1"/><rect x="899.5" y="446.80" width="2" height="9.50" rx="0.7" fill="none" stroke="#0d47a1" stroke-width="1"/><line x1="906.5" y1="455.2" x2="906.5" y2="490.6" stroke="#ef5350" stroke-width="1"/><rect x="905.0" y="459.2" width="3" height="31.40" fill="#ef5350"/><line x1="912.5" y1="480.2" x2="912.5" y2="496.8" stroke="#ef5350" stroke-width="1"/><rect x="911.0" y="492.3" width="3" height="4.00" fill="#ef5350"/><line x1="919.5" y1="493.1" x2="919.5" y2="529.7" stroke="#ef5350" stroke-width="1"/><rect x="918.0" y="499.0" width="3" height="20.70" fill="#ef5350"/><line x1="925.5" y1="495.2" x2="925.5" y2="497.1" stroke="#0d47a1" stroke-width="1"/><line x1="925.5" y1="511.6" x2="925.5" y2="519.7" stroke="#0d47a1" stroke-width="1"/><rect x="924.5" y="497.60" width="2" height="13.50" rx="0.7" fill="none" stroke="#0d47a1" stroke-width="1"/><line x1="931.5" y1="464.8" x2="931.5" y2="492.6" stroke="#0d47a1" stroke-width="1"/><rect x="930.0" y="472.1" width="3" height="5.60" fill="#0d47a1"/><line x1="938.5" y1="466.8" x2="938.5" y2="496.8" stroke="#ef5350" stroke-width="1"/><rect x="937.0" y="485.0" width="3" height="11.30" fill="#ef5350"/><line x1="944.5" y1="484.2" x2="944.5" y2="491.5" stroke="#0d47a1" stroke-width="1"/><line x1="944.5" y1="495.5" x2="944.5" y2="509.7" stroke="#0d47a1" stroke-width="1"/><rect x="943.5" y="492.00" width="2" height="3.00" rx="0.7" fill="none" stroke="#0d47a1" stroke-width="1"/><line x1="950.5" y1="435.0" x2="950.5" y2="466.3" stroke="#0d47a1" stroke-width="1"/><rect x="949.0" y="463.9" width="3" height="1.20" fill="#0d47a1"/><line x1="956.5" y1="471.0" x2="956.5" y2="515.6" stroke="#ef5350" stroke-width="1"/><rect x="955.0" y="471.3" width="3" height="41.10" fill="#ef5350"/><line x1="963.5" y1="483.4" x2="963.5" y2="484.2" stroke="#0d47a1" stroke-width="1"/><line x1="963.5" y1="496.8" x2="963.5" y2="508.7" stroke="#0d47a1" stroke-width="1"/><rect x="962.5" y="484.70" width="2" height="11.60" rx="0.7" fill="none" stroke="#0d47a1" stroke-width="1"/><line x1="969.5" y1="474.2" x2="969.5" y2="484.5" stroke="#ef5350" stroke-width="1"/><line x1="969.5" y1="487.4" x2="969.5" y2="491.9" stroke="#ef5350" stroke-width="1"/><rect x="968.5" y="484.95" width="2" height="2.00" rx="0.7" fill="none" stroke="#ef5350" stroke-width="1"/><line x1="975.5" y1="443.1" x2="975.5" y2="443.5" stroke="#0d47a1" stroke-width="1"/><line x1="975.5" y1="493.1" x2="975.5" y2="493.5" stroke="#0d47a1" stroke-width="1"/><rect x="974.5" y="444.00" width="2" height="48.60" rx="0.7" fill="none" stroke="#0d47a1" stroke-width="1"/><line x1="981.5" y1="422.1" x2="981.5" y2="425.3" stroke="#0d47a1" stroke-width="1"/><line x1="981.5" y1="444.7" x2="981.5" y2="446.8" stroke="#0d47a1" stroke-width="1"/><rect x="980.5" y="425.80" width="2" height="18.40" rx="0.7" fill="none" stroke="#0d47a1" stroke-width="1"/><line x1="988.5" y1="416.1" x2="988.5" y2="446.8" stroke="#ef5350" stroke-width="1"/><rect x="987.0" y="425.3" width="3" height="18.20" fill="#ef5350"/><line x1="994.5" y1="426.9" x2="994.5" y2="431.0" stroke="#0d47a1" stroke-width="1"/><line x1="994.5" y1="444.2" x2="994.5" y2="448.7" stroke="#0d47a1" stroke-width="1"/><rect x="993.5" y="431.50" width="2" height="12.20" rx="0.7" fill="none" stroke="#0d47a1" stroke-width="1"/><line x1="1000.5" y1="389.8" x2="1000.5" y2="393.1" stroke="#0d47a1" stroke-width="1"/><line x1="1000.5" y1="433.4" x2="1000.5" y2="444.7" stroke="#0d47a1" stroke-width="1"/><rect x="999.5" y="393.60" width="2" height="39.30" rx="0.7" fill="none" stroke="#0d47a1" stroke-width="1"/><line x1="1006.5" y1="381.0" x2="1006.5" y2="387.1" stroke="#0d47a1" stroke-width="1"/><line x1="1006.5" y1="402.3" x2="1006.5" y2="417.7" stroke="#0d47a1" stroke-width="1"/><rect x="1005.5" y="387.60" width="2" height="14.20" rx="0.7" fill="none" stroke="#0d47a1" stroke-width="1"/><line x1="1013.5" y1="372.1" x2="1013.5" y2="396.8" stroke="#ef5350" stroke-width="1"/><rect x="1012.0" y="386.1" width="3" height="5.40" fill="#ef5350"/><line x1="1019.5" y1="368.9" x2="1019.5" y2="380.2" stroke="#0d47a1" stroke-width="1"/><line x1="1019.5" y1="391.0" x2="1019.5" y2="398.7" stroke="#0d47a1" stroke-width="1"/><rect x="1018.5" y="380.70" width="2" height="9.80" rx="0.7" fill="none" stroke="#0d47a1" stroke-width="1"/><line x1="1025.5" y1="367.7" x2="1025.5" y2="385.8" stroke="#0d47a1" stroke-width="1"/><rect x="1024.0" y="375.9" width="3" height="1.20" fill="#0d47a1"/><line x1="1032.5" y1="364.0" x2="1032.5" y2="392.6" stroke="#ef5350" stroke-width="1"/><rect x="1031.0" y="366.1" width="3" height="12.40" fill="#ef5350"/><line x1="1038.5" y1="367.7" x2="1038.5" y2="368.9" stroke="#0d47a1" stroke-width="1"/><line x1="1038.5" y1="376.5" x2="1038.5" y2="390.6" stroke="#0d47a1" stroke-width="1"/><rect x="1037.5" y="369.40" width="2" height="6.60" rx="0.7" fill="none" stroke="#0d47a1" stroke-width="1"/><line x1="1044.5" y1="366.8" x2="1044.5" y2="386.6" stroke="#ef5350" stroke-width="1"/><rect x="1043.0" y="372.1" width="3" height="4.80" fill="#ef5350"/><line x1="1050.5" y1="371.0" x2="1050.5" y2="384.2" stroke="#ef5350" stroke-width="1"/><line x1="1050.5" y1="395.2" x2="1050.5" y2="400.6" stroke="#ef5350" stroke-width="1"/><rect x="1049.5" y="384.70" width="2" height="10.00" rx="0.7" fill="none" stroke="#ef5350" stroke-width="1"/><line x1="1057.5" y1="365.2" x2="1057.5" y2="411.1" stroke="#ef5350" stroke-width="1"/><rect x="1056.0" y="381.3" width="3" height="29.80" fill="#ef5350"/><line x1="1063.5" y1="407.1" x2="1063.5" y2="419.2" stroke="#ef5350" stroke-width="1"/><rect x="1062.0" y="411.1" width="3" height="8.10" fill="#ef5350"/><line x1="1069.5" y1="418.1" x2="1069.5" y2="435.8" stroke="#ef5350" stroke-width="1"/><rect x="1068.0" y="420.0" width="3" height="4.50" fill="#ef5350"/><line x1="1075.5" y1="419.2" x2="1075.5" y2="448.7" stroke="#ef5350" stroke-width="1"/><rect x="1074.0" y="421.3" width="3" height="27.40" fill="#ef5350"/><line x1="1082.5" y1="435.3" x2="1082.5" y2="436.5" stroke="#0d47a1" stroke-width="1"/><line x1="1082.5" y1="448.7" x2="1082.5" y2="452.6" stroke="#0d47a1" stroke-width="1"/><rect x="1081.5" y="437.00" width="2" height="11.20" rx="0.7" fill="none" stroke="#0d47a1" stroke-width="1"/><line x1="1088.5" y1="437.4" x2="1088.5" y2="466.8" stroke="#ef5350" stroke-width="1"/><rect x="1087.0" y="438.5" width="3" height="16.20" fill="#ef5350"/><line x1="1094.5" y1="405.2" x2="1094.5" y2="409.5" stroke="#0d47a1" stroke-width="1"/><line x1="1094.5" y1="432.1" x2="1094.5" y2="432.9" stroke="#0d47a1" stroke-width="1"/><rect x="1093.5" y="410.00" width="2" height="21.60" rx="0.7" fill="none" stroke="#0d47a1" stroke-width="1"/><line x1="1100.5" y1="386.1" x2="1100.5" y2="394.5" stroke="#0d47a1" stroke-width="1"/><line x1="1100.5" y1="410.3" x2="1100.5" y2="414.8" stroke="#0d47a1" stroke-width="1"/><rect x="1099.5" y="395.00" width="2" height="14.80" rx="0.7" fill="none" stroke="#0d47a1" stroke-width="1"/><line x1="1107.5" y1="371.9" x2="1107.5" y2="374.0" stroke="#0d47a1" stroke-width="1"/><line x1="1107.5" y1="399.0" x2="1107.5" y2="399.4" stroke="#0d47a1" stroke-width="1"/><rect x="1106.5" y="374.50" width="2" height="24.00" rx="0.7" fill="none" stroke="#0d47a1" stroke-width="1"/><line x1="1113.5" y1="354.2" x2="1113.5" y2="356.3" stroke="#0d47a1" stroke-width="1"/><line x1="1113.5" y1="377.3" x2="1113.5" y2="377.7" stroke="#0d47a1" stroke-width="1"/><rect x="1112.5" y="356.80" width="2" height="20.00" rx="0.7" fill="none" stroke="#0d47a1" stroke-width="1"/><line x1="1119.5" y1="335.3" x2="1119.5" y2="347.4" stroke="#0d47a1" stroke-width="1"/><line x1="1119.5" y1="358.7" x2="1119.5" y2="359.5" stroke="#0d47a1" stroke-width="1"/><rect x="1118.5" y="347.90" width="2" height="10.30" rx="0.7" fill="none" stroke="#0d47a1" stroke-width="1"/><line x1="1125.5" y1="345.0" x2="1125.5" y2="359.0" stroke="#ef5350" stroke-width="1"/><rect x="1124.0" y="348.2" width="3" height="6.50" fill="#ef5350"/><line x1="1132.5" y1="349.8" x2="1132.5" y2="354.2" stroke="#0d47a1" stroke-width="1"/><line x1="1132.5" y1="356.3" x2="1132.5" y2="364.8" stroke="#0d47a1" stroke-width="1"/><rect x="1131.5" y="354.25" width="2" height="2.00" rx="0.7" fill="none" stroke="#0d47a1" stroke-width="1"/><line x1="1138.5" y1="334.2" x2="1138.5" y2="361.6" stroke="#0d47a1" stroke-width="1"/><rect x="1137.0" y="339.0" width="3" height="3.60" fill="#0d47a1"/><line x1="1144.5" y1="340.2" x2="1144.5" y2="377.3" stroke="#ef5350" stroke-width="1"/><rect x="1143.0" y="342.9" width="3" height="34.40" fill="#ef5350"/><line x1="1151.5" y1="371.3" x2="1151.5" y2="389.7" stroke="#ef5350" stroke-width="1"/><rect x="1150.0" y="372.9" width="3" height="7.60" fill="#ef5350"/><line x1="1157.5" y1="378.4" x2="1157.5" y2="403.5" stroke="#ef5350" stroke-width="1"/><rect x="1156.0" y="380.0" width="3" height="11.30" fill="#ef5350"/><line x1="1163.5" y1="376.0" x2="1163.5" y2="382.9" stroke="#0d47a1" stroke-width="1"/><line x1="1163.5" y1="394.8" x2="1163.5" y2="396.9" stroke="#0d47a1" stroke-width="1"/><rect x="1162.5" y="383.40" width="2" height="10.90" rx="0.7" fill="none" stroke="#0d47a1" stroke-width="1"/><line x1="1169.5" y1="365.2" x2="1169.5" y2="370.3" stroke="#0d47a1" stroke-width="1"/><line x1="1169.5" y1="387.7" x2="1169.5" y2="389.7" stroke="#0d47a1" stroke-width="1"/><rect x="1168.5" y="370.80" width="2" height="16.40" rx="0.7" fill="none" stroke="#0d47a1" stroke-width="1"/><line x1="1176.5" y1="371.1" x2="1176.5" y2="372.3" stroke="#ef5350" stroke-width="1"/><line x1="1176.5" y1="375.5" x2="1176.5" y2="384.0" stroke="#ef5350" stroke-width="1"/><rect x="1175.5" y="372.80" width="2" height="2.20" rx="0.7" fill="none" stroke="#ef5350" stroke-width="1"/><line x1="1182.5" y1="388.9" x2="1182.5" y2="413.1" stroke="#ef5350" stroke-width="1"/><rect x="1181.0" y="389.7" width="3" height="20.90" fill="#ef5350"/><line x1="1188.5" y1="394.8" x2="1188.5" y2="413.1" stroke="#0d47a1" stroke-width="1"/><rect x="1187.0" y="402.29999999999995" width="3" height="1.20" fill="#0d47a1"/><line x1="1194.5" y1="391.0" x2="1194.5" y2="395.3" stroke="#0d47a1" stroke-width="1"/><line x1="1194.5" y1="399.7" x2="1194.5" y2="407.7" stroke="#0d47a1" stroke-width="1"/><rect x="1193.5" y="395.80" width="2" height="3.40" rx="0.7" fill="none" stroke="#0d47a1" stroke-width="1"/><line x1="1201.5" y1="355.0" x2="1201.5" y2="357.4" stroke="#0d47a1" stroke-width="1"/><rect x="1200.5" y="357.90" width="2" height="41.30" rx="0.7" fill="none" stroke="#0d47a1" stroke-width="1"/><line x1="1207.5" y1="351.0" x2="1207.5" y2="363.9" stroke="#ef5350" stroke-width="1"/><rect x="1206.0" y="361.5" width="3" height="2.40" fill="#ef5350"/><line x1="1213.5" y1="355.0" x2="1213.5" y2="374.8" stroke="#ef5350" stroke-width="1"/><rect x="1212.0" y="367.1" width="3" height="2.40" fill="#ef5350"/><line x1="1219.5" y1="359.0" x2="1219.5" y2="385.2" stroke="#ef5350" stroke-width="1"/><rect x="1218.0" y="366.3" width="3" height="18.90" fill="#ef5350"/><line x1="1226.5" y1="386.1" x2="1226.5" y2="405.8" stroke="#ef5350" stroke-width="1"/><rect x="1225.0" y="386.5" width="3" height="19.30" fill="#ef5350"/><line x1="1232.5" y1="398.1" x2="1232.5" y2="403.4" stroke="#0d47a1" stroke-width="1"/><line x1="1232.5" y1="407.1" x2="1232.5" y2="411.0" stroke="#0d47a1" stroke-width="1"/><rect x="1231.5" y="403.90" width="2" height="2.70" rx="0.7" fill="none" stroke="#0d47a1" stroke-width="1"/><line x1="1238.5" y1="368.4" x2="1238.5" y2="371.1" stroke="#0d47a1" stroke-width="1"/><line x1="1238.5" y1="392.1" x2="1238.5" y2="398.5" stroke="#0d47a1" stroke-width="1"/><rect x="1237.5" y="371.60" width="2" height="20.00" rx="0.7" fill="none" stroke="#0d47a1" stroke-width="1"/><line x1="1244.5" y1="355.0" x2="1244.5" y2="372.3" stroke="#ef5350" stroke-width="1"/><rect x="1243.5" y="372.80" width="2" height="2.20" rx="0.7" fill="none" stroke="#ef5350" stroke-width="1"/><line x1="1251.5" y1="379.2" x2="1251.5" y2="401.0" stroke="#ef5350" stroke-width="1"/><rect x="1250.0" y="380.0" width="3" height="20.20" fill="#ef5350"/><line x1="1257.5" y1="391.0" x2="1257.5" y2="412.6" stroke="#0d47a1" stroke-width="1"/><rect x="1256.0" y="394.2" width="3" height="3.20" fill="#0d47a1"/><line x1="1263.5" y1="381.9" x2="1263.5" y2="386.1" stroke="#0d47a1" stroke-width="1"/><line x1="1263.5" y1="394.2" x2="1263.5" y2="399.7" stroke="#0d47a1" stroke-width="1"/><rect x="1262.5" y="386.60" width="2" height="7.10" rx="0.7" fill="none" stroke="#0d47a1" stroke-width="1"/><line x1="1270.5" y1="386.8" x2="1270.5" y2="416.8" stroke="#ef5350" stroke-width="1"/><rect x="1269.0" y="388.1" width="3" height="28.70" fill="#ef5350"/><line x1="1276.5" y1="429.2" x2="1276.5" y2="450.6" stroke="#ef5350" stroke-width="1"/><rect x="1275.0" y="431.29999999999995" width="3" height="1.20" fill="#ef5350"/><line x1="1282.5" y1="401.8" x2="1282.5" y2="405.0" stroke="#0d47a1" stroke-width="1"/><rect x="1281.5" y="405.50" width="2" height="22.40" rx="0.7" fill="none" stroke="#0d47a1" stroke-width="1"/><line x1="1288.5" y1="382.9" x2="1288.5" y2="390.5" stroke="#0d47a1" stroke-width="1"/><line x1="1288.5" y1="407.1" x2="1288.5" y2="407.7" stroke="#0d47a1" stroke-width="1"/><rect x="1287.5" y="391.00" width="2" height="15.60" rx="0.7" fill="none" stroke="#0d47a1" stroke-width="1"/><line x1="1295.5" y1="392.9" x2="1295.5" y2="409.8" stroke="#ef5350" stroke-width="1"/><rect x="1294.0" y="394.7" width="3" height="1.20" fill="#ef5350"/><line x1="1301.5" y1="384.8" x2="1301.5" y2="407.7" stroke="#0d47a1" stroke-width="1"/><rect x="1300.0" y="386.1" width="3" height="8.40" fill="#0d47a1"/><line x1="1307.5" y1="394.2" x2="1307.5" y2="416.8" stroke="#ef5350" stroke-width="1"/><rect x="1306.0" y="394.2" width="3" height="22.60" fill="#ef5350"/><line x1="1313.5" y1="375.2" x2="1313.5" y2="382.4" stroke="#0d47a1" stroke-width="1"/><line x1="1313.5" y1="421.1" x2="1313.5" y2="421.9" stroke="#0d47a1" stroke-width="1"/><rect x="1312.5" y="382.90" width="2" height="37.70" rx="0.7" fill="none" stroke="#0d47a1" stroke-width="1"/><line x1="1320.5" y1="370.0" x2="1320.5" y2="370.3" stroke="#0d47a1" stroke-width="1"/><rect x="1319.5" y="370.80" width="2" height="19.20" rx="0.7" fill="none" stroke="#0d47a1" stroke-width="1"/><line x1="1326.5" y1="345.8" x2="1326.5" y2="346.9" stroke="#0d47a1" stroke-width="1"/><line x1="1326.5" y1="361.5" x2="1326.5" y2="364.7" stroke="#0d47a1" stroke-width="1"/><rect x="1325.5" y="347.40" width="2" height="13.60" rx="0.7" fill="none" stroke="#0d47a1" stroke-width="1"/><line x1="1332.5" y1="355.8" x2="1332.5" y2="398.5" stroke="#ef5350" stroke-width="1"/><rect x="1331.0" y="359.8" width="3" height="38.30" fill="#ef5350"/><line x1="1338.5" y1="372.3" x2="1338.5" y2="380.3" stroke="#0d47a1" stroke-width="1"/><line x1="1338.5" y1="401.3" x2="1338.5" y2="408.7" stroke="#0d47a1" stroke-width="1"/><rect x="1337.5" y="380.80" width="2" height="20.00" rx="0.7" fill="none" stroke="#0d47a1" stroke-width="1"/><line x1="1345.5" y1="364.2" x2="1345.5" y2="373.9" stroke="#0d47a1" stroke-width="1"/><line x1="1345.5" y1="379.7" x2="1345.5" y2="384.0" stroke="#0d47a1" stroke-width="1"/><rect x="1344.5" y="374.40" width="2" height="4.80" rx="0.7" fill="none" stroke="#0d47a1" stroke-width="1"/><line x1="1351.5" y1="367.1" x2="1351.5" y2="386.8" stroke="#ef5350" stroke-width="1"/><rect x="1350.0" y="371.9" width="3" height="9.70" fill="#ef5350"/><line x1="1357.5" y1="377.1" x2="1357.5" y2="404.5" stroke="#ef5350" stroke-width="1"/><rect x="1356.0" y="378.7" width="3" height="17.10" fill="#ef5350"/><line x1="1363.5" y1="386.8" x2="1363.5" y2="394.8" stroke="#ef5350" stroke-width="1"/><line x1="1363.5" y1="398.5" x2="1363.5" y2="409.8" stroke="#ef5350" stroke-width="1"/><rect x="1362.5" y="395.30" width="2" height="2.70" rx="0.7" fill="none" stroke="#ef5350" stroke-width="1"/><line x1="1370.5" y1="395.8" x2="1370.5" y2="410.6" stroke="#ef5350" stroke-width="1"/><rect x="1369.0" y="396.1" width="3" height="12.90" fill="#ef5350"/><line x1="1376.5" y1="398.1" x2="1376.5" y2="402.9" stroke="#0d47a1" stroke-width="1"/><rect x="1375.5" y="403.40" width="2" height="17.60" rx="0.7" fill="none" stroke="#0d47a1" stroke-width="1"/><line x1="1382.5" y1="391.3" x2="1382.5" y2="411.8" stroke="#ef5350" stroke-width="1"/><rect x="1381.0" y="399.4" width="3" height="7.10" fill="#ef5350"/><line x1="1389.5" y1="405.8" x2="1389.5" y2="406.9" stroke="#ef5350" stroke-width="1"/><line x1="1389.5" y1="413.4" x2="1389.5" y2="415.8" stroke="#ef5350" stroke-width="1"/><rect x="1388.5" y="407.40" width="2" height="5.50" rx="0.7" fill="none" stroke="#ef5350" stroke-width="1"/><line x1="1395.5" y1="388.1" x2="1395.5" y2="390.0" stroke="#0d47a1" stroke-width="1"/><line x1="1395.5" y1="409.4" x2="1395.5" y2="420.6" stroke="#0d47a1" stroke-width="1"/><rect x="1394.5" y="390.50" width="2" height="18.40" rx="0.7" fill="none" stroke="#0d47a1" stroke-width="1"/><line x1="1401.5" y1="394.8" x2="1401.5" y2="406.5" stroke="#ef5350" stroke-width="1"/><rect x="1400.0" y="395.6" width="3" height="5.40" fill="#ef5350"/><line x1="1407.5" y1="392.9" x2="1407.5" y2="396.1" stroke="#0d47a1" stroke-width="1"/><line x1="1407.5" y1="409.7" x2="1407.5" y2="412.6" stroke="#0d47a1" stroke-width="1"/><rect x="1406.5" y="396.60" width="2" height="12.60" rx="0.7" fill="none" stroke="#0d47a1" stroke-width="1"/><line x1="1414.5" y1="365.8" x2="1414.5" y2="371.5" stroke="#0d47a1" stroke-width="1"/><rect x="1413.5" y="372.00" width="2" height="18.30" rx="0.7" fill="none" stroke="#0d47a1" stroke-width="1"/><line x1="1420.5" y1="348.1" x2="1420.5" y2="353.2" stroke="#0d47a1" stroke-width="1"/><line x1="1420.5" y1="369.4" x2="1420.5" y2="376.8" stroke="#0d47a1" stroke-width="1"/><rect x="1419.5" y="353.70" width="2" height="15.20" rx="0.7" fill="none" stroke="#0d47a1" stroke-width="1"/><line x1="1426.5" y1="344.0" x2="1426.5" y2="364.5" stroke="#ef5350" stroke-width="1"/><rect x="1425.0" y="351.0" width="3" height="13.50" fill="#ef5350"/><line x1="1432.5" y1="358.1" x2="1432.5" y2="360.2" stroke="#0d47a1" stroke-width="1"/><line x1="1432.5" y1="363.4" x2="1432.5" y2="369.8" stroke="#0d47a1" stroke-width="1"/><rect x="1431.5" y="360.70" width="2" height="2.20" rx="0.7" fill="none" stroke="#0d47a1" stroke-width="1"/><line x1="1439.5" y1="309.0" x2="1439.5" y2="312.3" stroke="#0d47a1" stroke-width="1"/><line x1="1439.5" y1="350.5" x2="1439.5" y2="361.8" stroke="#0d47a1" stroke-width="1"/><rect x="1438.5" y="312.80" width="2" height="37.20" rx="0.7" fill="none" stroke="#0d47a1" stroke-width="1"/><line x1="1445.5" y1="269.7" x2="1445.5" y2="300.3" stroke="#0d47a1" stroke-width="1"/><line x1="1445.5" y1="305.5" x2="1445.5" y2="313.9" stroke="#0d47a1" stroke-width="1"/><rect x="1444.5" y="300.80" width="2" height="4.20" rx="0.7" fill="none" stroke="#0d47a1" stroke-width="1"/><line x1="1451.5" y1="284.5" x2="1451.5" y2="300.6" stroke="#0d47a1" stroke-width="1"/><rect x="1450.0" y="288.0" width="3" height="1.70" fill="#0d47a1"/><line x1="1457.5" y1="308.4" x2="1457.5" y2="319.7" stroke="#ef5350" stroke-width="1"/><rect x="1456.0" y="313.2" width="3" height="1.60" fill="#ef5350"/><line x1="1464.5" y1="311.1" x2="1464.5" y2="334.8" stroke="#ef5350" stroke-width="1"/><rect x="1463.0" y="315.2" width="3" height="13.70" fill="#ef5350"/><line x1="1470.5" y1="291.0" x2="1470.5" y2="297.1" stroke="#0d47a1" stroke-width="1"/><line x1="1470.5" y1="312.3" x2="1470.5" y2="315.5" stroke="#0d47a1" stroke-width="1"/><rect x="1469.5" y="297.60" width="2" height="14.20" rx="0.7" fill="none" stroke="#0d47a1" stroke-width="1"/><line x1="1476.5" y1="240.2" x2="1476.5" y2="241.0" stroke="#0d47a1" stroke-width="1"/><line x1="1476.5" y1="295.8" x2="1476.5" y2="298.7" stroke="#0d47a1" stroke-width="1"/><rect x="1475.5" y="241.50" width="2" height="53.80" rx="0.7" fill="none" stroke="#0d47a1" stroke-width="1"/><line x1="1483.5" y1="227.7" x2="1483.5" y2="264.8" stroke="#ef5350" stroke-width="1"/><rect x="1482.0" y="239.0" width="3" height="21.60" fill="#ef5350"/><line x1="1489.5" y1="228.9" x2="1489.5" y2="262.7" stroke="#0d47a1" stroke-width="1"/><rect x="1488.0" y="231.6" width="3" height="29.50" fill="#0d47a1"/><line x1="1495.5" y1="243.9" x2="1495.5" y2="281.0" stroke="#ef5350" stroke-width="1"/><rect x="1494.0" y="258.4" width="3" height="22.60" fill="#ef5350"/><line x1="1501.5" y1="263.2" x2="1501.5" y2="289.0" stroke="#0d47a1" stroke-width="1"/><rect x="1500.0" y="271.6" width="3" height="2.40" fill="#0d47a1"/><line x1="1508.5" y1="253.1" x2="1508.5" y2="282.1" stroke="#ef5350" stroke-width="1"/><rect x="1507.0" y="274.0" width="3" height="1.60" fill="#ef5350"/><line x1="1514.5" y1="271.3" x2="1514.5" y2="290.6" stroke="#ef5350" stroke-width="1"/><rect x="1513.0" y="271.9" width="3" height="10.20" fill="#ef5350"/><line x1="1520.5" y1="241.8" x2="1520.5" y2="247.4" stroke="#0d47a1" stroke-width="1"/><line x1="1520.5" y1="279.7" x2="1520.5" y2="281.0" stroke="#0d47a1" stroke-width="1"/><rect x="1519.5" y="247.90" width="2" height="31.30" rx="0.7" fill="none" stroke="#0d47a1" stroke-width="1"/><line x1="1526.5" y1="239.0" x2="1526.5" y2="258.7" stroke="#ef5350" stroke-width="1"/><rect x="1525.0" y="249.0" width="3" height="4.90" fill="#ef5350"/><line x1="1533.5" y1="242.9" x2="1533.5" y2="282.1" stroke="#ef5350" stroke-width="1"/><rect x="1532.0" y="253.9" width="3" height="28.20" fill="#ef5350"/><line x1="1539.5" y1="276.1" x2="1539.5" y2="308.7" stroke="#ef5350" stroke-width="1"/><rect x="1538.0" y="282.1" width="3" height="21.80" fill="#ef5350"/><line x1="1545.5" y1="282.1" x2="1545.5" y2="292.3" stroke="#0d47a1" stroke-width="1"/><line x1="1545.5" y1="301.5" x2="1545.5" y2="313.9" stroke="#0d47a1" stroke-width="1"/><rect x="1544.5" y="292.80" width="2" height="8.20" rx="0.7" fill="none" stroke="#0d47a1" stroke-width="1"/><line x1="1551.5" y1="307.1" x2="1551.5" y2="312.3" stroke="#ef5350" stroke-width="1"/><line x1="1551.5" y1="320.8" x2="1551.5" y2="326.8" stroke="#ef5350" stroke-width="1"/><rect x="1550.5" y="312.80" width="2" height="7.50" rx="0.7" fill="none" stroke="#ef5350" stroke-width="1"/><line x1="1558.5" y1="282.1" x2="1558.5" y2="285.3" stroke="#0d47a1" stroke-width="1"/><line x1="1558.5" y1="305.5" x2="1558.5" y2="315.5" stroke="#0d47a1" stroke-width="1"/><rect x="1557.5" y="285.80" width="2" height="19.20" rx="0.7" fill="none" stroke="#0d47a1" stroke-width="1"/><line x1="1564.5" y1="266.8" x2="1564.5" y2="270.3" stroke="#0d47a1" stroke-width="1"/><line x1="1564.5" y1="285.3" x2="1564.5" y2="286.5" stroke="#0d47a1" stroke-width="1"/><rect x="1563.5" y="270.80" width="2" height="14.00" rx="0.7" fill="none" stroke="#0d47a1" stroke-width="1"/></g><line x1="21" y1="269.5" x2="1728" y2="269.5" stroke="#a3a3a3" stroke-width="1.1" stroke-dasharray="4 3"/><rect x="21" y="282" width="1741" height="4" fill="#000"/><line x1="249.5" y1="209.6" x2="249.5" y2="231.2" stroke="#1a1a1a" stroke-width="1.3"/><path d="M244.3 230.2 L254.7 230.2 L249.5 240.8 Z" fill="#1a1a1a"/><line x1="405.5" y1="213.1" x2="405.5" y2="235.3" stroke="#1a1a1a" stroke-width="1.3"/><path d="M400.3 234.3 L410.7 234.3 L405.5 244.9 Z" fill="#1a1a1a"/><line x1="512.5" y1="214.1" x2="512.5" y2="236.3" stroke="#1a1a1a" stroke-width="1.3"/><path d="M507.3 235.3 L517.7 235.3 L512.5 245.9 Z" fill="#1a1a1a"/><line x1="1551.3" y1="363.5" x2="1551.3" y2="342.5" stroke="#1a1a1a" stroke-width="1.3"/><path d="M1546.3 343.4 L1556.3 343.4 L1551.3 332.9 Z" fill="#1a1a1a"/><polyline points="21.0,895.50 23.6,900.25 29.6,892.40 36.6,888.60 42.6,879.00 48.6,874.90 54.6,874.00 61.6,876.10 67.6,874.50 73.6,877.00 79.6,885.25 86.6,884.90 92.6,870.50 98.6,906.75 104.6,895.90 111.6,923.00 117.6,935.25 123.6,913.60 129.6,913.40 136.6,904.00 142.6,905.75 148.6,905.10 155.6,907.60 161.6,901.75 167.6,890.50 173.6,885.75 180.6,880.25 186.6,885.50 192.6,884.90 198.6,882.40 205.6,881.10 211.6,880.25 217.6,874.00 223.6,868.00 230.6,849.25 236.6,843.50 242.6,835.25 249.6,851.50 255.6,850.25 261.6,848.25 267.6,854.00 274.6,855.75 280.6,855.50 286.6,888.00 292.6,883.00 299.6,876.75 305.6,883.60 311.6,881.10 317.6,887.75 324.6,878.25 330.6,884.50 336.6,887.75 342.6,896.50 349.6,888.25 355.6,889.50 361.6,880.25 368.6,880.25 374.6,877.00 380.6,885.25 386.6,889.50 393.6,885.25 399.6,877.40 405.6,877.75 411.6,875.50 418.6,876.10 424.6,881.75 430.6,893.00 436.6,888.25 443.6,886.10 449.6,895.25 455.6,896.10 461.6,893.60 468.6,887.75 474.6,887.40 480.6,889.00 487.6,876.50 493.6,877.00 499.6,876.10 505.6,873.25 512.6,875.25 518.6,874.25 524.6,898.60 530.6,895.25 537.6,891.50 543.6,895.25 549.6,899.90 555.6,904.50 562.6,900.75 568.6,912.00 574.6,916.50 580.6,921.50 587.6,908.60 593.6,902.40 599.6,910.75 606.6,919.25 612.6,919.90 618.6,918.25 624.6,916.50 631.6,907.40 637.6,896.10 643.6,901.10 649.6,898.00 656.6,886.50 662.6,893.60 668.6,906.50 674.6,910.80 681.6,913.80 687.6,911.75 693.6,905.75 700.6,901.50 706.6,909.90 712.6,902.75 718.6,890.50 725.6,905.50 731.6,904.90 737.6,894.50 743.6,892.00 750.6,889.00 756.6,878.60 762.6,877.40 768.6,886.50 775.6,882.75 781.6,890.50 787.6,890.25 793.6,882.40 800.6,896.10 806.6,906.50 812.6,909.90 819.6,917.75 825.6,911.10 831.6,908.00 837.6,909.25 844.6,909.25 850.6,910.75 856.6,914.90 862.6,924.00 869.6,927.75 875.6,931.10 881.6,931.50 887.6,910.50 894.6,913.25 900.6,904.20 906.6,916.10 912.6,917.40 919.6,922.40 925.6,913.60 931.6,906.50 938.6,911.10 944.6,909.90 950.6,899.25 956.6,912.00 963.6,903.00 969.6,903.00 975.6,889.50 981.6,884.90 988.6,890.75 994.6,886.75 1000.6,876.50 1006.6,874.50 1013.6,876.75 1019.6,873.25 1025.6,872.40 1032.6,873.60 1038.6,870.50 1044.6,874.90 1050.6,879.00 1057.6,891.75 1063.6,895.25 1069.6,898.00 1075.6,907.00 1082.6,902.00 1088.6,908.25 1094.6,889.90 1100.6,885.25 1107.6,878.25 1113.6,872.40 1119.6,869.50 1125.6,873.60 1132.6,873.25 1138.6,869.00 1144.6,887.00 1151.6,889.00 1157.6,894.00 1163.6,891.10 1169.6,885.25 1176.6,886.50 1182.6,903.25 1188.6,899.90 1194.6,896.50 1201.6,881.50 1207.6,884.25 1213.6,887.00 1219.6,893.60 1226.6,902.75 1232.6,902.00 1238.6,888.25 1244.6,888.60 1251.6,900.25 1257.6,899.25 1263.6,894.50 1270.6,906.10 1276.6,911.10 1282.6,899.90 1288.6,893.60 1295.6,896.10 1301.6,895.50 1307.6,904.25 1313.6,890.25 1320.6,885.50 1326.6,877.40 1332.6,897.75 1338.6,891.75 1345.6,889.25 1351.6,892.40 1357.6,897.40 1363.6,897.40 1370.6,902.40 1376.6,900.25 1382.6,901.10 1389.6,902.40 1395.6,894.25 1401.6,898.25 1407.6,896.10 1414.6,884.90 1420.6,877.40 1426.6,883.25 1432.6,881.50 1439.6,864.25 1445.6,860.75 1451.6,857.40 1457.6,873.60 1464.6,880.75 1470.6,871.10 1476.6,856.50 1483.6,866.10 1489.6,866.50 1495.6,876.50 1501.6,874.40 1508.6,874.60 1514.6,878.60 1520.6,867.70 1526.6,871.50 1533.6,883.90 1539.6,893.30 1545.6,889.80 1551.6,897.30 1558.6,887.10 1564.6,883.00" fill="none" stroke="#3c3cf0" stroke-width="1.2" stroke-linejoin="round"/><rect x="21" y="946" width="1741" height="1" fill="#111"/><line x1="50.5" y1="946" x2="50.5" y2="956" stroke="#111" stroke-width="1"/><text x="50.5" y="965" text-anchor="middle" class="ax">Jan '20</text><line x1="158.5" y1="946" x2="158.5" y2="956" stroke="#111" stroke-width="1"/><text x="158.5" y="965" text-anchor="middle" class="ax">May '20</text><line x1="268.5" y1="946" x2="268.5" y2="956" stroke="#111" stroke-width="1"/><text x="268.5" y="965" text-anchor="middle" class="ax">Sep '20</text><line x1="377.5" y1="946" x2="377.5" y2="956" stroke="#111" stroke-width="1"/><text x="377.5" y="965" text-anchor="middle" class="ax">Jan '21</text><line x1="486.5" y1="946" x2="486.5" y2="956" stroke="#111" stroke-width="1"/><text x="486.5" y="965" text-anchor="middle" class="ax">May '21</text><line x1="595.5" y1="946" x2="595.5" y2="956" stroke="#111" stroke-width="1"/><text x="595.5" y="965" text-anchor="middle" class="ax">Sep '21</text><line x1="704.5" y1="946" x2="704.5" y2="956" stroke="#111" stroke-width="1"/><text x="704.5" y="965" text-anchor="middle" class="ax">Jan '22</text><line x1="811.5" y1="946" x2="811.5" y2="956" stroke="#111" stroke-width="1"/><text x="811.5" y="965" text-anchor="middle" class="ax">May '22</text><line x1="921.5" y1="946" x2="921.5" y2="956" stroke="#111" stroke-width="1"/><text x="921.5" y="965" text-anchor="middle" class="ax">Sep '22</text><line x1="1030.5" y1="946" x2="1030.5" y2="956" stroke="#111" stroke-width="1"/><text x="1030.5" y="965" text-anchor="middle" class="ax">Jan '23</text><line x1="1138.5" y1="946" x2="1138.5" y2="956" stroke="#111" stroke-width="1"/><text x="1138.5" y="965" text-anchor="middle" class="ax">May '23</text><line x1="1248.5" y1="946" x2="1248.5" y2="956" stroke="#111" stroke-width="1"/><text x="1248.5" y="965" text-anchor="middle" class="ax">Sep '23</text><line x1="1358.5" y1="946" x2="1358.5" y2="956" stroke="#111" stroke-width="1"/><text x="1358.5" y="965" text-anchor="middle" class="ax">Jan '24</text><line x1="1465.5" y1="946" x2="1465.5" y2="956" stroke="#111" stroke-width="1"/><text x="1465.5" y="965" text-anchor="middle" class="ax">May '24</text><line x1="1576.5" y1="946" x2="1576.5" y2="956" stroke="#111" stroke-width="1"/><text x="1576.5" y="965" text-anchor="middle" class="ax">Sep '24</text><line x1="1684.5" y1="946" x2="1684.5" y2="956" stroke="#111" stroke-width="1"/><text x="1684.5" y="965" text-anchor="middle" class="ax">Jan '25</text><text x="1766.5" y="92.8" text-anchor="end" class="ax" textLength="30.5" lengthAdjust="spacingAndGlyphs">38.50</text><text x="1766.5" y="147.0" text-anchor="end" class="ax" textLength="30.5" lengthAdjust="spacingAndGlyphs">34.60</text><text x="1766.5" y="200.0" text-anchor="end" class="ax" textLength="30.5" lengthAdjust="spacingAndGlyphs">31.10</text><text x="1766.5" y="254.0" text-anchor="end" class="ax" textLength="30.5" lengthAdjust="spacingAndGlyphs">27.95</text><text x="1766.5" y="307.6" text-anchor="end" class="ax" textLength="30.5" lengthAdjust="spacingAndGlyphs">25.12</text><text x="1766.5" y="361.0" text-anchor="end" class="ax" textLength="30.5" lengthAdjust="spacingAndGlyphs">22.57</text><text x="1766.5" y="415.0" text-anchor="end" class="ax" textLength="30.5" lengthAdjust="spacingAndGlyphs">20.28</text><text x="1766.5" y="468.5" text-anchor="end" class="ax" textLength="30.5" lengthAdjust="spacingAndGlyphs">18.23</text><text x="1766.5" y="522.5" text-anchor="end" class="ax" textLength="30.5" lengthAdjust="spacingAndGlyphs">16.38</text><text x="1766.5" y="576.0" text-anchor="end" class="ax" textLength="30.5" lengthAdjust="spacingAndGlyphs">14.72</text><text x="1766.5" y="630.0" text-anchor="end" class="ax" textLength="30.5" lengthAdjust="spacingAndGlyphs">13.23</text><text x="1766.5" y="683.4" text-anchor="end" class="ax" textLength="30.5" lengthAdjust="spacingAndGlyphs">11.89</text><text x="1766.5" y="736.8" text-anchor="end" class="ax" textLength="30.5" lengthAdjust="spacingAndGlyphs">10.69</text><text x="1766.5" y="790.8" text-anchor="end" class="ax" textLength="23" lengthAdjust="spacingAndGlyphs">9.60</text><text x="1762" y="858.3" text-anchor="end" class="ax" textLength="30.5" lengthAdjust="spacingAndGlyphs">75.00</text><text x="1762" y="900.5" text-anchor="end" class="ax" textLength="30.5" lengthAdjust="spacingAndGlyphs">50.00</text><text x="1762" y="943.0" text-anchor="end" class="ax" textLength="30.5" lengthAdjust="spacingAndGlyphs">25.00</text><text x="1762" y="942.7" text-anchor="end" class="tz" textLength="89" lengthAdjust="spacingAndGlyphs">Your local time zone</text><rect x="1728" y="259.6" width="43" height="19.2" rx="3" fill="#6f7070"/><text x="1749.8" y="273.4" text-anchor="middle" class="tag" textLength="30.5" lengthAdjust="spacingAndGlyphs">27.20</text><text x="1605.2" y="34.9" text-anchor="end" class="fib" textLength="30.5" lengthAdjust="spacingAndGlyphs">2.618</text><text x="1605.2" y="172" text-anchor="end" class="fib" textLength="30.5" lengthAdjust="spacingAndGlyphs">1.618</text><text x="1605.2" y="210" text-anchor="end" class="fib" textLength="30.5" lengthAdjust="spacingAndGlyphs">1.382</text><text x="1605.2" y="361" text-anchor="end" class="fib" textLength="30.5" lengthAdjust="spacingAndGlyphs">0.618</text><text x="1605.2" y="418" text-anchor="end" class="fib" textLength="30.5" lengthAdjust="spacingAndGlyphs">0.382</text><text x="204" y="39.5" class="hd" textLength="154" lengthAdjust="spacingAndGlyphs">Aug 24, 2024 2:30PM EDT</text><text x="23" y="71.5" class="hd" textLength="312.5" lengthAdjust="spacingAndGlyphs">SLV, Weekly, Hollow Candles chart (Logarithmic scale)</text><text x="50" y="43" class="logo" font-weight="bold" textLength="66.5" lengthAdjust="spacingAndGlyphs">Trend</text><text x="117.5" y="43" class="logo thin" textLength="73" lengthAdjust="spacingAndGlyphs">Spider</text><circle cx="27.0" cy="29.5" r="1.8" fill="none" stroke="#454d55" stroke-width="1"/><circle cx="38.4" cy="27.4" r="2.0" fill="none" stroke="#454d55" stroke-width="1"/><circle cx="33.9" cy="31.9" r="1.7" fill="none" stroke="#454d55" stroke-width="1"/><circle cx="22.45" cy="36.45" r="2.0" fill="none" stroke="#454d55" stroke-width="1"/><circle cx="35.35" cy="39.0" r="1.8" fill="none" stroke="#454d55" stroke-width="1"/><circle cx="42.3" cy="41.9" r="1.9" fill="none" stroke="#454d55" stroke-width="1"/><circle cx="27.0" cy="44.5" r="1.9" fill="none" stroke="#454d55" stroke-width="1"/><path d="M27.8 31.2 L29.3 35.8 L30.8 36.8 L29.3 38 L27.8 42.6" fill="none" stroke="#454d55" stroke-width="1"/><text x="20" y="985.5" class="cp" textLength="87" lengthAdjust="spacingAndGlyphs">©2024 TrendSpider</text></svg>
</body></html>
